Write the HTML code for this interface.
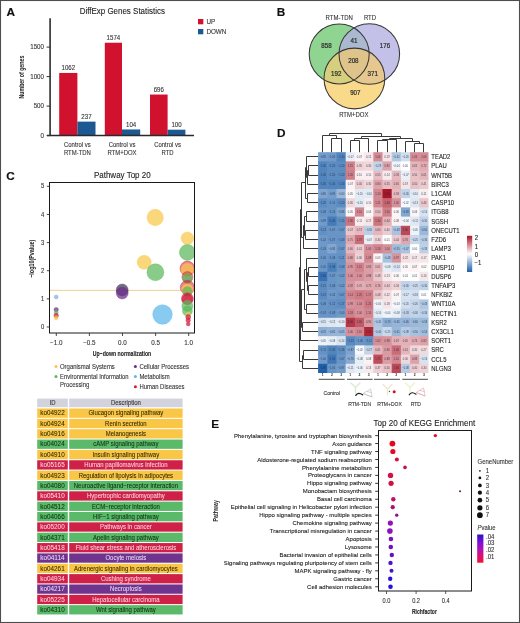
<!DOCTYPE html>
<html><head><meta charset="utf-8"><style>
html,body{margin:0;padding:0;background:#fff;width:520px;height:623px;overflow:hidden;}
svg{display:block;}
text{font-family:"Liberation Sans", sans-serif;}
</style></head><body>
<svg width="520" height="623" viewBox="0 0 520 623" font-family="Liberation Sans, sans-serif" style="will-change:transform">
<rect width="520" height="623" fill="#fff"/>
<text x="6.50" y="16.00" font-size="11.8" fill="#111" stroke="#111" stroke-width="0.15" font-weight="bold" textLength="8.52" lengthAdjust="spacingAndGlyphs">A</text>
<text x="276.80" y="16.00" font-size="11.8" fill="#111" stroke="#111" stroke-width="0.15" font-weight="bold" textLength="8.52" lengthAdjust="spacingAndGlyphs">B</text>
<text x="6.30" y="180.00" font-size="11.8" fill="#111" stroke="#111" stroke-width="0.15" font-weight="bold" textLength="8.52" lengthAdjust="spacingAndGlyphs">C</text>
<text x="276.90" y="136.60" font-size="11.8" fill="#111" stroke="#111" stroke-width="0.15" font-weight="bold" textLength="8.52" lengthAdjust="spacingAndGlyphs">D</text>
<text x="211.30" y="428.00" font-size="11.8" fill="#111" stroke="#111" stroke-width="0.15" font-weight="bold" textLength="7.87" lengthAdjust="spacingAndGlyphs">E</text>
<text x="122.30" y="13.70" font-size="8.8" fill="#222" stroke="#222" stroke-width="0.1" text-anchor="middle" textLength="85.30" lengthAdjust="spacingAndGlyphs">DiffExp Genes Statistics</text>
<rect x="59.20" y="72.94" width="18.20" height="62.66" fill="#d0122f" />
<text x="68.30" y="70.14" font-size="6.4" fill="#333" stroke="#333" stroke-width="0.1" text-anchor="middle" textLength="13.57" lengthAdjust="spacingAndGlyphs">1062</text>
<rect x="77.40" y="121.62" width="18.10" height="13.98" fill="#1c5892" />
<text x="86.45" y="118.82" font-size="6.4" fill="#333" stroke="#333" stroke-width="0.1" text-anchor="middle" textLength="10.18" lengthAdjust="spacingAndGlyphs">237</text>
<rect x="104.80" y="42.73" width="17.20" height="92.87" fill="#d0122f" />
<text x="113.40" y="39.93" font-size="6.4" fill="#333" stroke="#333" stroke-width="0.1" text-anchor="middle" textLength="13.57" lengthAdjust="spacingAndGlyphs">1574</text>
<rect x="122.00" y="129.46" width="18.20" height="6.14" fill="#1c5892" />
<text x="131.10" y="126.66" font-size="6.4" fill="#333" stroke="#333" stroke-width="0.1" text-anchor="middle" textLength="10.18" lengthAdjust="spacingAndGlyphs">104</text>
<rect x="150.00" y="94.54" width="17.60" height="41.06" fill="#d0122f" />
<text x="158.80" y="91.74" font-size="6.4" fill="#333" stroke="#333" stroke-width="0.1" text-anchor="middle" textLength="10.18" lengthAdjust="spacingAndGlyphs">696</text>
<rect x="167.60" y="129.70" width="17.80" height="5.90" fill="#1c5892" />
<text x="176.50" y="126.90" font-size="6.4" fill="#333" stroke="#333" stroke-width="0.1" text-anchor="middle" textLength="10.18" lengthAdjust="spacingAndGlyphs">100</text>
<line x1="50.10" y1="18.20" x2="50.10" y2="136.00" stroke="#383838" stroke-width="1.7"/>
<line x1="47.00" y1="135.50" x2="194.00" y2="135.50" stroke="#2a2a2a" stroke-width="1.3"/>
<line x1="46.60" y1="135.60" x2="50.30" y2="135.60" stroke="#333" stroke-width="1"/>
<text x="44.00" y="137.80" font-size="6.4" fill="#333" stroke="#333" stroke-width="0.1" text-anchor="end" textLength="3.45" lengthAdjust="spacingAndGlyphs">0</text>
<line x1="46.60" y1="106.10" x2="50.30" y2="106.10" stroke="#333" stroke-width="1"/>
<text x="44.00" y="108.30" font-size="6.4" fill="#333" stroke="#333" stroke-width="0.1" text-anchor="end" textLength="10.34" lengthAdjust="spacingAndGlyphs">500</text>
<line x1="46.60" y1="76.60" x2="50.30" y2="76.60" stroke="#333" stroke-width="1"/>
<text x="44.00" y="78.80" font-size="6.4" fill="#333" stroke="#333" stroke-width="0.1" text-anchor="end" textLength="13.79" lengthAdjust="spacingAndGlyphs">1000</text>
<line x1="46.60" y1="47.10" x2="50.30" y2="47.10" stroke="#333" stroke-width="1"/>
<text x="44.00" y="49.30" font-size="6.4" fill="#333" stroke="#333" stroke-width="0.1" text-anchor="end" textLength="13.79" lengthAdjust="spacingAndGlyphs">1500</text>
<text x="77.40" y="146.80" font-size="6.6" fill="#333" stroke="#333" stroke-width="0.1" text-anchor="middle" textLength="26.74" lengthAdjust="spacingAndGlyphs">Control vs</text>
<text x="77.40" y="154.50" font-size="6.6" fill="#333" stroke="#333" stroke-width="0.1" text-anchor="middle" textLength="26.94" lengthAdjust="spacingAndGlyphs">RTM-TDN</text>
<text x="122.00" y="146.80" font-size="6.6" fill="#333" stroke="#333" stroke-width="0.1" text-anchor="middle" textLength="26.74" lengthAdjust="spacingAndGlyphs">Control vs</text>
<text x="122.00" y="154.50" font-size="6.6" fill="#333" stroke="#333" stroke-width="0.1" text-anchor="middle" textLength="29.10" lengthAdjust="spacingAndGlyphs">RTM+DOX</text>
<text x="167.60" y="146.80" font-size="6.6" fill="#333" stroke="#333" stroke-width="0.1" text-anchor="middle" textLength="26.74" lengthAdjust="spacingAndGlyphs">Control vs</text>
<text x="167.60" y="154.50" font-size="6.6" fill="#333" stroke="#333" stroke-width="0.1" text-anchor="middle" textLength="12.10" lengthAdjust="spacingAndGlyphs">RTD</text>
<text x="0" y="0" font-size="8" font-weight="bold" fill="#222" text-anchor="middle" textLength="42.8" lengthAdjust="spacingAndGlyphs" transform="translate(24.4,77.1) rotate(-90)">Number of genes</text>
<rect x="198.00" y="19.00" width="5.30" height="5.30" fill="#d0122f" />
<text x="206.40" y="24.30" font-size="7.0" fill="#333" stroke="#333" stroke-width="0.1" textLength="8.75" lengthAdjust="spacingAndGlyphs">UP</text>
<rect x="198.00" y="29.00" width="5.30" height="5.30" fill="#1c5892" />
<text x="206.40" y="34.30" font-size="7.0" fill="#333" stroke="#333" stroke-width="0.1" textLength="20.00" lengthAdjust="spacingAndGlyphs">DOWN</text>
<defs>
<clipPath id="cg"><circle cx="339.2" cy="54.0" r="30.0"/></clipPath>
<clipPath id="cp"><circle cx="369.3" cy="54.0" r="30.3"/></clipPath>
<clipPath id="cy"><circle cx="354.4" cy="78.5" r="30.4"/></clipPath>
</defs>
<circle cx="339.2" cy="54.0" r="30.0" fill="#90d491" />
<circle cx="369.3" cy="54.0" r="30.3" fill="#c4c1e8" />
<g clip-path="url(#cg)"><circle cx="369.3" cy="54.0" r="30.3" fill="#aab8d0" /></g>
<circle cx="354.4" cy="78.5" r="30.4" fill="#f9d98a" />
<g clip-path="url(#cg)"><circle cx="354.4" cy="78.5" r="30.4" fill="#d6cf7d" /></g>
<g clip-path="url(#cp)"><circle cx="354.4" cy="78.5" r="30.4" fill="#e5c78f" /></g>
<g clip-path="url(#cg)"><g clip-path="url(#cp)"><circle cx="354.4" cy="78.5" r="30.4" fill="#dec48a" /></g></g>
<circle cx="339.2" cy="54.0" r="30.0" fill="none" stroke="#383838" stroke-width="1.05"/>
<circle cx="369.3" cy="54.0" r="30.3" fill="none" stroke="#383838" stroke-width="1.05"/>
<circle cx="354.4" cy="78.5" r="30.4" fill="none" stroke="#383838" stroke-width="1.05"/>
<text x="326.50" y="48.10" font-size="6.4" fill="#2a2a2a" stroke="#2a2a2a" stroke-width="0.2" text-anchor="middle" textLength="10.34" lengthAdjust="spacingAndGlyphs">858</text>
<text x="353.90" y="43.40" font-size="6.4" fill="#2a2a2a" stroke="#2a2a2a" stroke-width="0.2" text-anchor="middle" textLength="6.90" lengthAdjust="spacingAndGlyphs">41</text>
<text x="385.00" y="48.10" font-size="6.4" fill="#2a2a2a" stroke="#2a2a2a" stroke-width="0.2" text-anchor="middle" textLength="10.34" lengthAdjust="spacingAndGlyphs">176</text>
<text x="353.40" y="63.10" font-size="6.4" fill="#2a2a2a" stroke="#2a2a2a" stroke-width="0.2" text-anchor="middle" textLength="10.34" lengthAdjust="spacingAndGlyphs">208</text>
<text x="336.20" y="76.10" font-size="6.4" fill="#2a2a2a" stroke="#2a2a2a" stroke-width="0.2" text-anchor="middle" textLength="10.34" lengthAdjust="spacingAndGlyphs">192</text>
<text x="372.70" y="76.10" font-size="6.4" fill="#2a2a2a" stroke="#2a2a2a" stroke-width="0.2" text-anchor="middle" textLength="10.34" lengthAdjust="spacingAndGlyphs">371</text>
<text x="355.30" y="94.60" font-size="6.4" fill="#2a2a2a" stroke="#2a2a2a" stroke-width="0.2" text-anchor="middle" textLength="10.34" lengthAdjust="spacingAndGlyphs">907</text>
<text x="339.20" y="20.40" font-size="6.8" fill="#333" stroke="#333" stroke-width="0.1" text-anchor="middle" textLength="27.20" lengthAdjust="spacingAndGlyphs">RTM-TDN</text>
<text x="370.00" y="20.40" font-size="6.8" fill="#333" stroke="#333" stroke-width="0.1" text-anchor="middle" textLength="12.19" lengthAdjust="spacingAndGlyphs">RTD</text>
<text x="353.80" y="117.10" font-size="6.8" fill="#333" stroke="#333" stroke-width="0.1" text-anchor="middle" textLength="29.32" lengthAdjust="spacingAndGlyphs">RTM+DOX</text>
<text x="122.30" y="177.90" font-size="8.8" fill="#222" stroke="#222" stroke-width="0.1" text-anchor="middle" textLength="56.80" lengthAdjust="spacingAndGlyphs">Pathway Top 20</text>
<defs><clipPath id="pc"><rect x="49.5" y="182.5" width="145.0" height="150.5"/></clipPath></defs>
<line x1="49.50" y1="290.40" x2="194.50" y2="290.40" stroke="#efc77a" stroke-width="0.8"/>
<g clip-path="url(#pc)">
<circle cx="56.2" cy="297.0" r="2.0" fill="#7aaee0" fill-opacity="0.72" stroke="#7aaee0" stroke-opacity="0.6" stroke-width="0.6"/>
<circle cx="56.2" cy="309.6" r="2.2" fill="#6b2d8e" fill-opacity="0.72" stroke="#6b2d8e" stroke-opacity="0.6" stroke-width="0.6"/>
<circle cx="56.2" cy="312.6" r="2.0" fill="#5cb85c" fill-opacity="0.72" stroke="#5cb85c" stroke-opacity="0.6" stroke-width="0.6"/>
<circle cx="56.2" cy="315.6" r="2.3" fill="#d21a3a" fill-opacity="0.72" stroke="#d21a3a" stroke-opacity="0.6" stroke-width="0.6"/>
<circle cx="56.2" cy="318.0" r="2.0" fill="#f9c84a" fill-opacity="0.72" stroke="#f9c84a" stroke-opacity="0.6" stroke-width="0.6"/>
<circle cx="122.2" cy="290.0" r="6.0" fill="#3e3650" fill-opacity="0.72" stroke="#3e3650" stroke-opacity="0.6" stroke-width="0.6"/>
<circle cx="122.2" cy="293.0" r="6.0" fill="#6b2d8e" fill-opacity="0.72" stroke="#6b2d8e" stroke-opacity="0.6" stroke-width="0.6"/>
<circle cx="155.2" cy="217.5" r="8.2" fill="#f9c84a" fill-opacity="0.72" stroke="#f9c84a" stroke-opacity="0.6" stroke-width="0.6"/>
<circle cx="144.2" cy="262.3" r="7.0" fill="#f9c84a" fill-opacity="0.72" stroke="#f9c84a" stroke-opacity="0.6" stroke-width="0.6"/>
<circle cx="155.4" cy="272.3" r="8.5" fill="#5cb85c" fill-opacity="0.72" stroke="#5cb85c" stroke-opacity="0.6" stroke-width="0.6"/>
<circle cx="162.5" cy="314.5" r="9.8" fill="#5bb7ea" fill-opacity="0.72" stroke="#5bb7ea" stroke-opacity="0.6" stroke-width="0.6"/>
<circle cx="187.4" cy="238.2" r="6.3" fill="#f9c84a" fill-opacity="0.72" stroke="#f9c84a" stroke-opacity="0.6" stroke-width="0.6"/>
<circle cx="187.4" cy="252.4" r="8.0" fill="#5cb85c" fill-opacity="0.72" stroke="#5cb85c" stroke-opacity="0.6" stroke-width="0.6"/>
<circle cx="187.4" cy="268.5" r="7.4" fill="#d21a3a" fill-opacity="0.55" stroke="#d21a3a" stroke-opacity="0.6" stroke-width="0.6"/>
<circle cx="187.4" cy="269.5" r="6.3" fill="#f9c84a" fill-opacity="0.72" stroke="#f9c84a" stroke-opacity="0.6" stroke-width="0.6"/>
<circle cx="187.4" cy="277.0" r="5.5" fill="#d21a3a" fill-opacity="0.5" stroke="#d21a3a" stroke-opacity="0.6" stroke-width="0.6"/>
<circle cx="187.4" cy="278.5" r="5.0" fill="#5cb85c" fill-opacity="0.72" stroke="#5cb85c" stroke-opacity="0.6" stroke-width="0.6"/>
<circle cx="187.4" cy="287.5" r="7.2" fill="#d21a3a" fill-opacity="0.55" stroke="#d21a3a" stroke-opacity="0.6" stroke-width="0.6"/>
<circle cx="187.4" cy="289.5" r="5.8" fill="#f9c84a" fill-opacity="0.72" stroke="#f9c84a" stroke-opacity="0.6" stroke-width="0.6"/>
<circle cx="187.4" cy="291.5" r="4.8" fill="#5cb85c" fill-opacity="0.72" stroke="#5cb85c" stroke-opacity="0.6" stroke-width="0.6"/>
<circle cx="187.4" cy="298.8" r="6.0" fill="#d21a3a" fill-opacity="0.72" stroke="#d21a3a" stroke-opacity="0.6" stroke-width="0.6"/>
<circle cx="187.4" cy="299.5" r="5.0" fill="#d21a3a" fill-opacity="0.5" stroke="#d21a3a" stroke-opacity="0.6" stroke-width="0.6"/>
<circle cx="187.4" cy="305.9" r="5.6" fill="#5cb85c" fill-opacity="0.72" stroke="#5cb85c" stroke-opacity="0.6" stroke-width="0.6"/>
<circle cx="187.4" cy="311.0" r="5.0" fill="#5cb85c" fill-opacity="0.72" stroke="#5cb85c" stroke-opacity="0.6" stroke-width="0.6"/>
<circle cx="188.2" cy="314.5" r="2.2" fill="#f9c84a" fill-opacity="0.72" stroke="#f9c84a" stroke-opacity="0.6" stroke-width="0.6"/>
<circle cx="188.2" cy="317.0" r="2.5" fill="#d21a3a" fill-opacity="0.72" stroke="#d21a3a" stroke-opacity="0.6" stroke-width="0.6"/>
<circle cx="188.2" cy="320.3" r="2.2" fill="#d21a3a" fill-opacity="0.72" stroke="#d21a3a" stroke-opacity="0.6" stroke-width="0.6"/>
<circle cx="188.2" cy="323.9" r="2.0" fill="#d21a3a" fill-opacity="0.72" stroke="#d21a3a" stroke-opacity="0.6" stroke-width="0.6"/>
</g>
<rect x="49.5" y="182.5" width="145.0" height="150.5" fill="none" stroke="#1a1a1a" stroke-width="1.0"/>
<line x1="46.80" y1="327.00" x2="49.50" y2="327.00" stroke="#333" stroke-width="0.9"/>
<text x="44.30" y="329.10" font-size="6.4" fill="#333" stroke="#333" stroke-width="0.1" text-anchor="end" textLength="3.28" lengthAdjust="spacingAndGlyphs">0</text>
<line x1="46.80" y1="298.86" x2="49.50" y2="298.86" stroke="#333" stroke-width="0.9"/>
<text x="44.30" y="300.96" font-size="6.4" fill="#333" stroke="#333" stroke-width="0.1" text-anchor="end" textLength="3.28" lengthAdjust="spacingAndGlyphs">1</text>
<line x1="46.80" y1="270.72" x2="49.50" y2="270.72" stroke="#333" stroke-width="0.9"/>
<text x="44.30" y="272.82" font-size="6.4" fill="#333" stroke="#333" stroke-width="0.1" text-anchor="end" textLength="3.28" lengthAdjust="spacingAndGlyphs">2</text>
<line x1="46.80" y1="242.58" x2="49.50" y2="242.58" stroke="#333" stroke-width="0.9"/>
<text x="44.30" y="244.68" font-size="6.4" fill="#333" stroke="#333" stroke-width="0.1" text-anchor="end" textLength="3.28" lengthAdjust="spacingAndGlyphs">3</text>
<line x1="46.80" y1="214.44" x2="49.50" y2="214.44" stroke="#333" stroke-width="0.9"/>
<text x="44.30" y="216.54" font-size="6.4" fill="#333" stroke="#333" stroke-width="0.1" text-anchor="end" textLength="3.28" lengthAdjust="spacingAndGlyphs">4</text>
<line x1="46.80" y1="186.30" x2="49.50" y2="186.30" stroke="#333" stroke-width="0.9"/>
<text x="44.30" y="188.40" font-size="6.4" fill="#333" stroke="#333" stroke-width="0.1" text-anchor="end" textLength="3.28" lengthAdjust="spacingAndGlyphs">5</text>
<line x1="56.30" y1="333.00" x2="56.30" y2="336.00" stroke="#333" stroke-width="0.9"/>
<text x="56.30" y="345.20" font-size="6.4" fill="#333" stroke="#333" stroke-width="0.1" text-anchor="middle" textLength="12.44" lengthAdjust="spacingAndGlyphs">−1.0</text>
<line x1="89.40" y1="333.00" x2="89.40" y2="336.00" stroke="#333" stroke-width="0.9"/>
<text x="89.40" y="345.20" font-size="6.4" fill="#333" stroke="#333" stroke-width="0.1" text-anchor="middle" textLength="12.44" lengthAdjust="spacingAndGlyphs">−0.5</text>
<line x1="122.50" y1="333.00" x2="122.50" y2="336.00" stroke="#333" stroke-width="0.9"/>
<text x="122.50" y="345.20" font-size="6.4" fill="#333" stroke="#333" stroke-width="0.1" text-anchor="middle" textLength="8.76" lengthAdjust="spacingAndGlyphs">0.0</text>
<line x1="155.60" y1="333.00" x2="155.60" y2="336.00" stroke="#333" stroke-width="0.9"/>
<text x="155.60" y="345.20" font-size="6.4" fill="#333" stroke="#333" stroke-width="0.1" text-anchor="middle" textLength="8.76" lengthAdjust="spacingAndGlyphs">0.5</text>
<line x1="188.70" y1="333.00" x2="188.70" y2="336.00" stroke="#333" stroke-width="0.9"/>
<text x="188.70" y="345.20" font-size="6.4" fill="#333" stroke="#333" stroke-width="0.1" text-anchor="middle" textLength="8.76" lengthAdjust="spacingAndGlyphs">1.0</text>
<text x="0" y="0" font-size="7.2" font-weight="bold" fill="#222" text-anchor="middle" textLength="38.2" lengthAdjust="spacingAndGlyphs" transform="translate(34.1,258.7) rotate(-90)">−log10(Pvalue)</text>
<text x="122.00" y="356.40" font-size="7.4" fill="#222" stroke="#222" stroke-width="0.1" text-anchor="middle" font-weight="bold" textLength="58.60" lengthAdjust="spacingAndGlyphs">Up−down normalization</text>
<circle cx="56.00" cy="366.50" r="1.50" fill="#f9c84a" />
<circle cx="56.00" cy="376.50" r="1.50" fill="#5cb85c" />
<circle cx="135.40" cy="366.50" r="1.50" fill="#6b2d8e" />
<circle cx="135.40" cy="376.50" r="1.50" fill="#5bb7ea" />
<circle cx="135.40" cy="386.80" r="1.50" fill="#d21a3a" />
<text x="60.00" y="368.90" font-size="6.8" fill="#333" stroke="#333" stroke-width="0.1" textLength="54.80" lengthAdjust="spacingAndGlyphs">Organismal Systems</text>
<text x="60.00" y="378.90" font-size="6.8" fill="#333" stroke="#333" stroke-width="0.1" textLength="68.60" lengthAdjust="spacingAndGlyphs">Environmental Information</text>
<text x="60.00" y="386.60" font-size="6.8" fill="#333" stroke="#333" stroke-width="0.1" textLength="29.27" lengthAdjust="spacingAndGlyphs">Processing</text>
<text x="139.40" y="368.90" font-size="6.8" fill="#333" stroke="#333" stroke-width="0.1" textLength="49.60" lengthAdjust="spacingAndGlyphs">Cellular Processes</text>
<text x="139.40" y="378.90" font-size="6.8" fill="#333" stroke="#333" stroke-width="0.1" textLength="30.25" lengthAdjust="spacingAndGlyphs">Metabolism</text>
<text x="139.40" y="389.00" font-size="6.8" fill="#333" stroke="#333" stroke-width="0.1" textLength="45.05" lengthAdjust="spacingAndGlyphs">Human Diseases</text>
<rect x="37.20" y="398.60" width="30.60" height="8.60" fill="#d3d3de" />
<rect x="69.20" y="398.60" width="113.40" height="8.60" fill="#d3d3de" />
<text x="52.50" y="405.30" font-size="6.8" fill="#333" stroke="#333" stroke-width="0.1" text-anchor="middle" textLength="5.98" lengthAdjust="spacingAndGlyphs">ID</text>
<text x="125.90" y="405.30" font-size="6.8" fill="#333" stroke="#333" stroke-width="0.1" text-anchor="middle" textLength="29.93" lengthAdjust="spacingAndGlyphs">Description</text>
<rect x="37.20" y="408.50" width="30.60" height="9.30" fill="#f9c646" />
<rect x="69.20" y="408.50" width="113.40" height="9.30" fill="#f9c646" />
<text x="52.50" y="415.40" font-size="6.8" fill="#2a2200" stroke="#2a2200" stroke-width="0.04" text-anchor="middle" textLength="24.40" lengthAdjust="spacingAndGlyphs">ko04922</text>
<text x="125.90" y="415.40" font-size="6.8" fill="#2a2200" stroke="#2a2200" stroke-width="0.04" text-anchor="middle" textLength="74.85" lengthAdjust="spacingAndGlyphs">Glucagon signaling pathway</text>
<rect x="37.20" y="418.85" width="30.60" height="9.30" fill="#f9c646" />
<rect x="69.20" y="418.85" width="113.40" height="9.30" fill="#f9c646" />
<text x="52.50" y="425.75" font-size="6.8" fill="#2a2200" stroke="#2a2200" stroke-width="0.04" text-anchor="middle" textLength="24.40" lengthAdjust="spacingAndGlyphs">ko04924</text>
<text x="125.90" y="425.75" font-size="6.8" fill="#2a2200" stroke="#2a2200" stroke-width="0.04" text-anchor="middle" textLength="41.58" lengthAdjust="spacingAndGlyphs">Renin secretion</text>
<rect x="37.20" y="429.20" width="30.60" height="9.30" fill="#f9c646" />
<rect x="69.20" y="429.20" width="113.40" height="9.30" fill="#f9c646" />
<text x="52.50" y="436.10" font-size="6.8" fill="#2a2200" stroke="#2a2200" stroke-width="0.04" text-anchor="middle" textLength="24.40" lengthAdjust="spacingAndGlyphs">ko04916</text>
<text x="125.90" y="436.10" font-size="6.8" fill="#2a2200" stroke="#2a2200" stroke-width="0.04" text-anchor="middle" textLength="40.25" lengthAdjust="spacingAndGlyphs">Melanogenesis</text>
<rect x="37.20" y="439.55" width="30.60" height="9.30" fill="#5bba69" />
<rect x="69.20" y="439.55" width="113.40" height="9.30" fill="#5bba69" />
<text x="52.50" y="446.45" font-size="6.8" fill="#0d2a10" stroke="#0d2a10" stroke-width="0.04" text-anchor="middle" textLength="24.40" lengthAdjust="spacingAndGlyphs">ko04024</text>
<text x="125.90" y="446.45" font-size="6.8" fill="#0d2a10" stroke="#0d2a10" stroke-width="0.04" text-anchor="middle" textLength="65.09" lengthAdjust="spacingAndGlyphs">cAMP signaling pathway</text>
<rect x="37.20" y="449.90" width="30.60" height="9.30" fill="#f9c646" />
<rect x="69.20" y="449.90" width="113.40" height="9.30" fill="#f9c646" />
<text x="52.50" y="456.80" font-size="6.8" fill="#2a2200" stroke="#2a2200" stroke-width="0.04" text-anchor="middle" textLength="24.40" lengthAdjust="spacingAndGlyphs">ko04910</text>
<text x="125.90" y="456.80" font-size="6.8" fill="#2a2200" stroke="#2a2200" stroke-width="0.04" text-anchor="middle" textLength="66.53" lengthAdjust="spacingAndGlyphs">Insulin signaling pathway</text>
<rect x="37.20" y="460.25" width="30.60" height="9.30" fill="#cf2148" />
<rect x="69.20" y="460.25" width="113.40" height="9.30" fill="#cf2148" />
<text x="52.50" y="467.15" font-size="6.8" fill="#fbd7e2" stroke="#fbd7e2" stroke-width="0.04" text-anchor="middle" textLength="24.40" lengthAdjust="spacingAndGlyphs">ko05165</text>
<text x="125.90" y="467.15" font-size="6.8" fill="#fbd7e2" stroke="#fbd7e2" stroke-width="0.04" text-anchor="middle" textLength="83.15" lengthAdjust="spacingAndGlyphs">Human papillomavirus infection</text>
<rect x="37.20" y="470.60" width="30.60" height="9.30" fill="#f9c646" />
<rect x="69.20" y="470.60" width="113.40" height="9.30" fill="#f9c646" />
<text x="52.50" y="477.50" font-size="6.8" fill="#2a2200" stroke="#2a2200" stroke-width="0.04" text-anchor="middle" textLength="24.40" lengthAdjust="spacingAndGlyphs">ko04923</text>
<text x="125.90" y="477.50" font-size="6.8" fill="#2a2200" stroke="#2a2200" stroke-width="0.04" text-anchor="middle" textLength="94.47" lengthAdjust="spacingAndGlyphs">Regulation of lipolysis in adipocytes</text>
<rect x="37.20" y="480.95" width="30.60" height="9.30" fill="#5bba69" />
<rect x="69.20" y="480.95" width="113.40" height="9.30" fill="#5bba69" />
<text x="52.50" y="487.85" font-size="6.8" fill="#0d2a10" stroke="#0d2a10" stroke-width="0.04" text-anchor="middle" textLength="24.40" lengthAdjust="spacingAndGlyphs">ko04080</text>
<text x="125.90" y="487.85" font-size="6.8" fill="#0d2a10" stroke="#0d2a10" stroke-width="0.04" text-anchor="middle" textLength="104.28" lengthAdjust="spacingAndGlyphs">Neuroactive ligand−receptor interaction</text>
<rect x="37.20" y="491.30" width="30.60" height="9.30" fill="#cf2148" />
<rect x="69.20" y="491.30" width="113.40" height="9.30" fill="#cf2148" />
<text x="52.50" y="498.20" font-size="6.8" fill="#fbd7e2" stroke="#fbd7e2" stroke-width="0.04" text-anchor="middle" textLength="24.40" lengthAdjust="spacingAndGlyphs">ko05410</text>
<text x="125.90" y="498.20" font-size="6.8" fill="#fbd7e2" stroke="#fbd7e2" stroke-width="0.04" text-anchor="middle" textLength="77.83" lengthAdjust="spacingAndGlyphs">Hypertrophic cardiomyopathy</text>
<rect x="37.20" y="501.65" width="30.60" height="9.30" fill="#5bba69" />
<rect x="69.20" y="501.65" width="113.40" height="9.30" fill="#5bba69" />
<text x="52.50" y="508.55" font-size="6.8" fill="#0d2a10" stroke="#0d2a10" stroke-width="0.04" text-anchor="middle" textLength="24.40" lengthAdjust="spacingAndGlyphs">ko04512</text>
<text x="125.90" y="508.55" font-size="6.8" fill="#0d2a10" stroke="#0d2a10" stroke-width="0.04" text-anchor="middle" textLength="68.02" lengthAdjust="spacingAndGlyphs">ECM−receptor interaction</text>
<rect x="37.20" y="512.00" width="30.60" height="9.30" fill="#5bba69" />
<rect x="69.20" y="512.00" width="113.40" height="9.30" fill="#5bba69" />
<text x="52.50" y="518.90" font-size="6.8" fill="#0d2a10" stroke="#0d2a10" stroke-width="0.04" text-anchor="middle" textLength="24.40" lengthAdjust="spacingAndGlyphs">ko04066</text>
<text x="125.90" y="518.90" font-size="6.8" fill="#0d2a10" stroke="#0d2a10" stroke-width="0.04" text-anchor="middle" textLength="65.70" lengthAdjust="spacingAndGlyphs">HIF−1 signaling pathway</text>
<rect x="37.20" y="522.35" width="30.60" height="9.30" fill="#cf2148" />
<rect x="69.20" y="522.35" width="113.40" height="9.30" fill="#cf2148" />
<text x="52.50" y="529.25" font-size="6.8" fill="#fbd7e2" stroke="#fbd7e2" stroke-width="0.04" text-anchor="middle" textLength="24.40" lengthAdjust="spacingAndGlyphs">ko05200</text>
<text x="125.90" y="529.25" font-size="6.8" fill="#fbd7e2" stroke="#fbd7e2" stroke-width="0.04" text-anchor="middle" textLength="51.89" lengthAdjust="spacingAndGlyphs">Pathways in cancer</text>
<rect x="37.20" y="532.70" width="30.60" height="9.30" fill="#5bba69" />
<rect x="69.20" y="532.70" width="113.40" height="9.30" fill="#5bba69" />
<text x="52.50" y="539.60" font-size="6.8" fill="#0d2a10" stroke="#0d2a10" stroke-width="0.04" text-anchor="middle" textLength="24.40" lengthAdjust="spacingAndGlyphs">ko04371</text>
<text x="125.90" y="539.60" font-size="6.8" fill="#0d2a10" stroke="#0d2a10" stroke-width="0.04" text-anchor="middle" textLength="65.87" lengthAdjust="spacingAndGlyphs">Apelin signaling pathway</text>
<rect x="37.20" y="543.05" width="30.60" height="9.30" fill="#cf2148" />
<rect x="69.20" y="543.05" width="113.40" height="9.30" fill="#cf2148" />
<text x="52.50" y="549.95" font-size="6.8" fill="#fbd7e2" stroke="#fbd7e2" stroke-width="0.04" text-anchor="middle" textLength="24.40" lengthAdjust="spacingAndGlyphs">ko05418</text>
<text x="125.90" y="549.95" font-size="6.8" fill="#fbd7e2" stroke="#fbd7e2" stroke-width="0.04" text-anchor="middle" textLength="100.78" lengthAdjust="spacingAndGlyphs">Fluid shear stress and atherosclerosis</text>
<rect x="37.20" y="553.40" width="30.60" height="9.30" fill="#6f348e" />
<rect x="69.20" y="553.40" width="113.40" height="9.30" fill="#6f348e" />
<text x="52.50" y="560.30" font-size="6.8" fill="#eadcf6" stroke="#eadcf6" stroke-width="0.04" text-anchor="middle" textLength="24.40" lengthAdjust="spacingAndGlyphs">ko04114</text>
<text x="125.90" y="560.30" font-size="6.8" fill="#eadcf6" stroke="#eadcf6" stroke-width="0.04" text-anchor="middle" textLength="40.90" lengthAdjust="spacingAndGlyphs">Oocyte meiosis</text>
<rect x="37.20" y="563.75" width="30.60" height="9.30" fill="#f9c646" />
<rect x="69.20" y="563.75" width="113.40" height="9.30" fill="#f9c646" />
<text x="52.50" y="570.65" font-size="6.8" fill="#2a2200" stroke="#2a2200" stroke-width="0.04" text-anchor="middle" textLength="24.40" lengthAdjust="spacingAndGlyphs">ko04261</text>
<text x="125.90" y="570.65" font-size="6.8" fill="#2a2200" stroke="#2a2200" stroke-width="0.04" text-anchor="middle" textLength="103.77" lengthAdjust="spacingAndGlyphs">Adrenergic signaling in cardiomyocytes</text>
<rect x="37.20" y="574.10" width="30.60" height="9.30" fill="#cf2148" />
<rect x="69.20" y="574.10" width="113.40" height="9.30" fill="#cf2148" />
<text x="52.50" y="581.00" font-size="6.8" fill="#fbd7e2" stroke="#fbd7e2" stroke-width="0.04" text-anchor="middle" textLength="24.40" lengthAdjust="spacingAndGlyphs">ko04934</text>
<text x="125.90" y="581.00" font-size="6.8" fill="#fbd7e2" stroke="#fbd7e2" stroke-width="0.04" text-anchor="middle" textLength="49.89" lengthAdjust="spacingAndGlyphs">Cushing syndrome</text>
<rect x="37.20" y="584.45" width="30.60" height="9.30" fill="#6f348e" />
<rect x="69.20" y="584.45" width="113.40" height="9.30" fill="#6f348e" />
<text x="52.50" y="591.35" font-size="6.8" fill="#eadcf6" stroke="#eadcf6" stroke-width="0.04" text-anchor="middle" textLength="24.40" lengthAdjust="spacingAndGlyphs">ko04217</text>
<text x="125.90" y="591.35" font-size="6.8" fill="#eadcf6" stroke="#eadcf6" stroke-width="0.04" text-anchor="middle" textLength="31.59" lengthAdjust="spacingAndGlyphs">Necroptosis</text>
<rect x="37.20" y="594.80" width="30.60" height="9.30" fill="#cf2148" />
<rect x="69.20" y="594.80" width="113.40" height="9.30" fill="#cf2148" />
<text x="52.50" y="601.70" font-size="6.8" fill="#fbd7e2" stroke="#fbd7e2" stroke-width="0.04" text-anchor="middle" textLength="24.40" lengthAdjust="spacingAndGlyphs">ko05225</text>
<text x="125.90" y="601.70" font-size="6.8" fill="#fbd7e2" stroke="#fbd7e2" stroke-width="0.04" text-anchor="middle" textLength="67.52" lengthAdjust="spacingAndGlyphs">Hepatocellular carcinoma</text>
<rect x="37.20" y="605.15" width="30.60" height="9.30" fill="#5bba69" />
<rect x="69.20" y="605.15" width="113.40" height="9.30" fill="#5bba69" />
<text x="52.50" y="612.05" font-size="6.8" fill="#0d2a10" stroke="#0d2a10" stroke-width="0.04" text-anchor="middle" textLength="24.40" lengthAdjust="spacingAndGlyphs">ko04310</text>
<text x="125.90" y="612.05" font-size="6.8" fill="#0d2a10" stroke="#0d2a10" stroke-width="0.04" text-anchor="middle" textLength="59.87" lengthAdjust="spacingAndGlyphs">Wnt signaling pathway</text>
<rect x="318.10" y="152.20" width="9.80" height="9.80" fill="#749dcb" />
<rect x="327.30" y="152.20" width="9.80" height="9.80" fill="#6f9ac9" />
<rect x="336.50" y="152.20" width="9.80" height="9.80" fill="#5285be" />
<rect x="345.70" y="152.20" width="9.80" height="9.80" fill="#e9eff7" />
<rect x="354.90" y="152.20" width="9.80" height="9.80" fill="#fbf3f4" />
<rect x="364.10" y="152.20" width="9.80" height="9.80" fill="#f7e9eb" />
<rect x="373.30" y="152.20" width="9.80" height="9.80" fill="#d58b94" />
<rect x="382.50" y="152.20" width="9.80" height="9.80" fill="#f5e4e6" />
<rect x="391.70" y="152.20" width="9.80" height="9.80" fill="#b1c8e1" />
<rect x="400.90" y="152.20" width="9.80" height="9.80" fill="#d0deed" />
<rect x="410.10" y="152.20" width="9.80" height="9.80" fill="#d58c95" />
<rect x="419.30" y="152.20" width="9.20" height="9.80" fill="#d58b94" />
<rect x="318.10" y="161.40" width="9.80" height="9.80" fill="#5285be" />
<rect x="327.30" y="161.40" width="9.80" height="9.80" fill="#5c8cc1" />
<rect x="336.50" y="161.40" width="9.80" height="9.80" fill="#5c8cc1" />
<rect x="345.70" y="161.40" width="9.80" height="9.80" fill="#d2828c" />
<rect x="354.90" y="161.40" width="9.80" height="9.80" fill="#eed2d5" />
<rect x="364.10" y="161.40" width="9.80" height="9.80" fill="#f0d7da" />
<rect x="373.30" y="161.40" width="9.80" height="9.80" fill="#c3d4e8" />
<rect x="382.50" y="161.40" width="9.80" height="9.80" fill="#dda2aa" />
<rect x="391.70" y="161.40" width="9.80" height="9.80" fill="#f0f4f9" />
<rect x="400.90" y="161.40" width="9.80" height="9.80" fill="#ffffff" />
<rect x="410.10" y="161.40" width="9.80" height="9.80" fill="#e4b5bb" />
<rect x="419.30" y="161.40" width="9.20" height="9.80" fill="#e0abb2" />
<rect x="318.10" y="170.60" width="9.80" height="9.80" fill="#5285be" />
<rect x="327.30" y="170.60" width="9.80" height="9.80" fill="#5c8cc1" />
<rect x="336.50" y="170.60" width="9.80" height="9.80" fill="#5c8cc1" />
<rect x="345.70" y="170.60" width="9.80" height="9.80" fill="#d07e88" />
<rect x="354.90" y="170.60" width="9.80" height="9.80" fill="#f9eff1" />
<rect x="364.10" y="170.60" width="9.80" height="9.80" fill="#f9eff1" />
<rect x="373.30" y="170.60" width="9.80" height="9.80" fill="#e7bcc2" />
<rect x="382.50" y="170.60" width="9.80" height="9.80" fill="#f7eaec" />
<rect x="391.70" y="170.60" width="9.80" height="9.80" fill="#e6b9bf" />
<rect x="400.90" y="170.60" width="9.80" height="9.80" fill="#e9eff7" />
<rect x="410.10" y="170.60" width="9.80" height="9.80" fill="#e9c2c6" />
<rect x="419.30" y="170.60" width="9.20" height="9.80" fill="#e4b6bc" />
<rect x="318.10" y="179.80" width="9.80" height="9.80" fill="#5285be" />
<rect x="327.30" y="179.80" width="9.80" height="9.80" fill="#5285be" />
<rect x="336.50" y="179.80" width="9.80" height="9.80" fill="#5285be" />
<rect x="345.70" y="179.80" width="9.80" height="9.80" fill="#fbf3f4" />
<rect x="354.90" y="179.80" width="9.80" height="9.80" fill="#ecccd0" />
<rect x="364.10" y="179.80" width="9.80" height="9.80" fill="#f0d7da" />
<rect x="373.30" y="179.80" width="9.80" height="9.80" fill="#dea3aa" />
<rect x="382.50" y="179.80" width="9.80" height="9.80" fill="#e7bcc2" />
<rect x="391.70" y="179.80" width="9.80" height="9.80" fill="#e3b2b8" />
<rect x="400.90" y="179.80" width="9.80" height="9.80" fill="#f5e4e6" />
<rect x="410.10" y="179.80" width="9.80" height="9.80" fill="#e9c2c6" />
<rect x="419.30" y="179.80" width="9.20" height="9.80" fill="#eccbcf" />
<rect x="318.10" y="189.00" width="9.80" height="9.80" fill="#7fa4cf" />
<rect x="327.30" y="189.00" width="9.80" height="9.80" fill="#749dcb" />
<rect x="336.50" y="189.00" width="9.80" height="9.80" fill="#9bb8d9" />
<rect x="345.70" y="189.00" width="9.80" height="9.80" fill="#fcf6f7" />
<rect x="354.90" y="189.00" width="9.80" height="9.80" fill="#e2ebf4" />
<rect x="364.10" y="189.00" width="9.80" height="9.80" fill="#e2ebf4" />
<rect x="373.30" y="189.00" width="9.80" height="9.80" fill="#d38790" />
<rect x="382.50" y="189.00" width="9.80" height="9.80" fill="#aa1628" />
<rect x="391.70" y="189.00" width="9.80" height="9.80" fill="#e6b9bf" />
<rect x="400.90" y="189.00" width="9.80" height="9.80" fill="#c1d3e8" />
<rect x="410.10" y="189.00" width="9.80" height="9.80" fill="#e2ebf4" />
<rect x="419.30" y="189.00" width="9.20" height="9.80" fill="#f9eeef" />
<rect x="318.10" y="198.20" width="9.80" height="9.80" fill="#5c8cc1" />
<rect x="327.30" y="198.20" width="9.80" height="9.80" fill="#6693c5" />
<rect x="336.50" y="198.20" width="9.80" height="9.80" fill="#5c8cc1" />
<rect x="345.70" y="198.20" width="9.80" height="9.80" fill="#f0d7da" />
<rect x="354.90" y="198.20" width="9.80" height="9.80" fill="#e2ebf4" />
<rect x="364.10" y="198.20" width="9.80" height="9.80" fill="#f9eff1" />
<rect x="373.30" y="198.20" width="9.80" height="9.80" fill="#d3868f" />
<rect x="382.50" y="198.20" width="9.80" height="9.80" fill="#c76570" />
<rect x="391.70" y="198.20" width="9.80" height="9.80" fill="#d79099" />
<rect x="400.90" y="198.20" width="9.80" height="9.80" fill="#f6f8fb" />
<rect x="410.10" y="198.20" width="9.80" height="9.80" fill="#dde7f2" />
<rect x="419.30" y="198.20" width="9.20" height="9.80" fill="#eac6ca" />
<rect x="318.10" y="207.40" width="9.80" height="9.80" fill="#6794c6" />
<rect x="327.30" y="207.40" width="9.80" height="9.80" fill="#6693c5" />
<rect x="336.50" y="207.40" width="9.80" height="9.80" fill="#7ea4ce" />
<rect x="345.70" y="207.40" width="9.80" height="9.80" fill="#fcf6f7" />
<rect x="354.90" y="207.40" width="9.80" height="9.80" fill="#d38790" />
<rect x="364.10" y="207.40" width="9.80" height="9.80" fill="#fcf8f8" />
<rect x="373.30" y="207.40" width="9.80" height="9.80" fill="#e7bdc2" />
<rect x="382.50" y="207.40" width="9.80" height="9.80" fill="#d07e88" />
<rect x="391.70" y="207.40" width="9.80" height="9.80" fill="#fbf5f6" />
<rect x="400.90" y="207.40" width="9.80" height="9.80" fill="#81a6cf" />
<rect x="410.10" y="207.40" width="9.80" height="9.80" fill="#fbf5f6" />
<rect x="419.30" y="207.40" width="9.20" height="9.80" fill="#d7e3f0" />
<rect x="318.10" y="216.60" width="9.80" height="9.80" fill="#709ac9" />
<rect x="327.30" y="216.60" width="9.80" height="9.80" fill="#457bb9" />
<rect x="336.50" y="216.60" width="9.80" height="9.80" fill="#618fc3" />
<rect x="345.70" y="216.60" width="9.80" height="9.80" fill="#cd757f" />
<rect x="354.90" y="216.60" width="9.80" height="9.80" fill="#f9eeef" />
<rect x="364.10" y="216.60" width="9.80" height="9.80" fill="#f6e6e8" />
<rect x="373.30" y="216.60" width="9.80" height="9.80" fill="#cd757f" />
<rect x="382.50" y="216.60" width="9.80" height="9.80" fill="#e3b3b9" />
<rect x="391.70" y="216.60" width="9.80" height="9.80" fill="#faf2f3" />
<rect x="400.90" y="216.60" width="9.80" height="9.80" fill="#f0f4f9" />
<rect x="410.10" y="216.60" width="9.80" height="9.80" fill="#e0e9f3" />
<rect x="419.30" y="216.60" width="9.20" height="9.80" fill="#c1d3e8" />
<rect x="318.10" y="225.80" width="9.80" height="9.80" fill="#6390c4" />
<rect x="327.30" y="225.80" width="9.80" height="9.80" fill="#6895c6" />
<rect x="336.50" y="225.80" width="9.80" height="9.80" fill="#6895c6" />
<rect x="345.70" y="225.80" width="9.80" height="9.80" fill="#eac5c9" />
<rect x="354.90" y="225.80" width="9.80" height="9.80" fill="#e6bac0" />
<rect x="364.10" y="225.80" width="9.80" height="9.80" fill="#bacee5" />
<rect x="373.30" y="225.80" width="9.80" height="9.80" fill="#e5b7bd" />
<rect x="382.50" y="225.80" width="9.80" height="9.80" fill="#ecccd0" />
<rect x="391.70" y="225.80" width="9.80" height="9.80" fill="#a9c2df" />
<rect x="400.90" y="225.80" width="9.80" height="9.80" fill="#bc4957" />
<rect x="410.10" y="225.80" width="9.80" height="9.80" fill="#edf3f8" />
<rect x="419.30" y="225.80" width="9.20" height="9.80" fill="#9bb8d9" />
<rect x="318.10" y="235.00" width="9.80" height="9.80" fill="#6d98c8" />
<rect x="327.30" y="235.00" width="9.80" height="9.80" fill="#6895c6" />
<rect x="336.50" y="235.00" width="9.80" height="9.80" fill="#6794c6" />
<rect x="345.70" y="235.00" width="9.80" height="9.80" fill="#dfa8af" />
<rect x="354.90" y="235.00" width="9.80" height="9.80" fill="#ca6e7a" />
<rect x="364.10" y="235.00" width="9.80" height="9.80" fill="#e9eff7" />
<rect x="373.30" y="235.00" width="9.80" height="9.80" fill="#efd3d6" />
<rect x="382.50" y="235.00" width="9.80" height="9.80" fill="#fefdfd" />
<rect x="391.70" y="235.00" width="9.80" height="9.80" fill="#ebc8cc" />
<rect x="400.90" y="235.00" width="9.80" height="9.80" fill="#dfa7ae" />
<rect x="410.10" y="235.00" width="9.80" height="9.80" fill="#c9d9ea" />
<rect x="419.30" y="235.00" width="9.20" height="9.80" fill="#b9cde4" />
<rect x="318.10" y="244.20" width="9.80" height="9.80" fill="#6c97c8" />
<rect x="327.30" y="244.20" width="9.80" height="9.80" fill="#81a6cf" />
<rect x="336.50" y="244.20" width="9.80" height="9.80" fill="#6895c6" />
<rect x="345.70" y="244.20" width="9.80" height="9.80" fill="#e5b7bd" />
<rect x="354.90" y="244.20" width="9.80" height="9.80" fill="#eccbcf" />
<rect x="364.10" y="244.20" width="9.80" height="9.80" fill="#d79099" />
<rect x="373.30" y="244.20" width="9.80" height="9.80" fill="#d2838d" />
<rect x="382.50" y="244.20" width="9.80" height="9.80" fill="#d79099" />
<rect x="391.70" y="244.20" width="9.80" height="9.80" fill="#a1bcdb" />
<rect x="400.90" y="244.20" width="9.80" height="9.80" fill="#aac3df" />
<rect x="410.10" y="244.20" width="9.80" height="9.80" fill="#ffffff" />
<rect x="419.30" y="244.20" width="9.20" height="9.80" fill="#bdd0e6" />
<rect x="318.10" y="253.40" width="9.80" height="9.80" fill="#6995c7" />
<rect x="327.30" y="253.40" width="9.80" height="9.80" fill="#6794c6" />
<rect x="336.50" y="253.40" width="9.80" height="9.80" fill="#6592c5" />
<rect x="345.70" y="253.40" width="9.80" height="9.80" fill="#db9ea5" />
<rect x="354.90" y="253.40" width="9.80" height="9.80" fill="#eed1d4" />
<rect x="364.10" y="253.40" width="9.80" height="9.80" fill="#d48891" />
<rect x="373.30" y="253.40" width="9.80" height="9.80" fill="#fcf6f7" />
<rect x="382.50" y="253.40" width="9.80" height="9.80" fill="#a9c2df" />
<rect x="391.70" y="253.40" width="9.80" height="9.80" fill="#d8939b" />
<rect x="400.90" y="253.40" width="9.80" height="9.80" fill="#f4e0e3" />
<rect x="410.10" y="253.40" width="9.80" height="9.80" fill="#f6e6e8" />
<rect x="419.30" y="253.40" width="9.20" height="9.80" fill="#f6e6e8" />
<rect x="318.10" y="262.60" width="9.80" height="9.80" fill="#6a96c7" />
<rect x="327.30" y="262.60" width="9.80" height="9.80" fill="#4b80bb" />
<rect x="336.50" y="262.60" width="9.80" height="9.80" fill="#6794c6" />
<rect x="345.70" y="262.60" width="9.80" height="9.80" fill="#d8959d" />
<rect x="354.90" y="262.60" width="9.80" height="9.80" fill="#d2828c" />
<rect x="364.10" y="262.60" width="9.80" height="9.80" fill="#dc9fa6" />
<rect x="373.30" y="262.60" width="9.80" height="9.80" fill="#e4b6bc" />
<rect x="382.50" y="262.60" width="9.80" height="9.80" fill="#e6eef6" />
<rect x="391.70" y="262.60" width="9.80" height="9.80" fill="#dbe5f1" />
<rect x="400.90" y="262.60" width="9.80" height="9.80" fill="#fcf6f7" />
<rect x="410.10" y="262.60" width="9.80" height="9.80" fill="#fbf3f4" />
<rect x="419.30" y="262.60" width="9.20" height="9.80" fill="#fefbfb" />
<rect x="318.10" y="271.80" width="9.80" height="9.80" fill="#3872b4" />
<rect x="327.30" y="271.80" width="9.80" height="9.80" fill="#6895c6" />
<rect x="336.50" y="271.80" width="9.80" height="9.80" fill="#6d98c8" />
<rect x="345.70" y="271.80" width="9.80" height="9.80" fill="#d79099" />
<rect x="354.90" y="271.80" width="9.80" height="9.80" fill="#d79099" />
<rect x="364.10" y="271.80" width="9.80" height="9.80" fill="#db9ca3" />
<rect x="373.30" y="271.80" width="9.80" height="9.80" fill="#e9c4c8" />
<rect x="382.50" y="271.80" width="9.80" height="9.80" fill="#f8ebed" />
<rect x="391.70" y="271.80" width="9.80" height="9.80" fill="#fbf5f6" />
<rect x="400.90" y="271.80" width="9.80" height="9.80" fill="#fefdfd" />
<rect x="410.10" y="271.80" width="9.80" height="9.80" fill="#fefdfd" />
<rect x="419.30" y="271.80" width="9.20" height="9.80" fill="#f6e8e9" />
<rect x="318.10" y="281.00" width="9.80" height="9.80" fill="#5b8bc1" />
<rect x="327.30" y="281.00" width="9.80" height="9.80" fill="#6794c6" />
<rect x="336.50" y="281.00" width="9.80" height="9.80" fill="#6d98c8" />
<rect x="345.70" y="281.00" width="9.80" height="9.80" fill="#d998a0" />
<rect x="354.90" y="281.00" width="9.80" height="9.80" fill="#e1adb4" />
<rect x="364.10" y="281.00" width="9.80" height="9.80" fill="#dfa8af" />
<rect x="373.30" y="281.00" width="9.80" height="9.80" fill="#dfa7ae" />
<rect x="382.50" y="281.00" width="9.80" height="9.80" fill="#ebc8cc" />
<rect x="391.70" y="281.00" width="9.80" height="9.80" fill="#efd3d6" />
<rect x="400.90" y="281.00" width="9.80" height="9.80" fill="#c1d3e8" />
<rect x="410.10" y="281.00" width="9.80" height="9.80" fill="#c9d9ea" />
<rect x="419.30" y="281.00" width="9.20" height="9.80" fill="#c1d3e8" />
<rect x="318.10" y="290.20" width="9.80" height="9.80" fill="#5b8bc1" />
<rect x="327.30" y="290.20" width="9.80" height="9.80" fill="#6d98c8" />
<rect x="336.50" y="290.20" width="9.80" height="9.80" fill="#6895c6" />
<rect x="345.70" y="290.20" width="9.80" height="9.80" fill="#d2838d" />
<rect x="354.90" y="290.20" width="9.80" height="9.80" fill="#ce7984" />
<rect x="364.10" y="290.20" width="9.80" height="9.80" fill="#d1808a" />
<rect x="373.30" y="290.20" width="9.80" height="9.80" fill="#e9c4c8" />
<rect x="382.50" y="290.20" width="9.80" height="9.80" fill="#f4e0e3" />
<rect x="391.70" y="290.20" width="9.80" height="9.80" fill="#fbf3f4" />
<rect x="400.90" y="290.20" width="9.80" height="9.80" fill="#d5e2ef" />
<rect x="410.10" y="290.20" width="9.80" height="9.80" fill="#d4e0ef" />
<rect x="419.30" y="290.20" width="9.20" height="9.80" fill="#fefdfd" />
<rect x="318.10" y="299.40" width="9.80" height="9.80" fill="#6794c6" />
<rect x="327.30" y="299.40" width="9.80" height="9.80" fill="#6491c4" />
<rect x="336.50" y="299.40" width="9.80" height="9.80" fill="#5f8ec2" />
<rect x="345.70" y="299.40" width="9.80" height="9.80" fill="#d7929b" />
<rect x="354.90" y="299.40" width="9.80" height="9.80" fill="#d58d95" />
<rect x="364.10" y="299.40" width="9.80" height="9.80" fill="#ce7984" />
<rect x="373.30" y="299.40" width="9.80" height="9.80" fill="#edf3f8" />
<rect x="382.50" y="299.40" width="9.80" height="9.80" fill="#f6e5e7" />
<rect x="391.70" y="299.40" width="9.80" height="9.80" fill="#f3f6fa" />
<rect x="400.90" y="299.40" width="9.80" height="9.80" fill="#d0deed" />
<rect x="410.10" y="299.40" width="9.80" height="9.80" fill="#c7d7ea" />
<rect x="419.30" y="299.40" width="9.20" height="9.80" fill="#afc7e1" />
<rect x="318.10" y="308.60" width="9.80" height="9.80" fill="#6895c6" />
<rect x="327.30" y="308.60" width="9.80" height="9.80" fill="#6793c5" />
<rect x="336.50" y="308.60" width="9.80" height="9.80" fill="#6f9ac9" />
<rect x="345.70" y="308.60" width="9.80" height="9.80" fill="#d18089" />
<rect x="354.90" y="308.60" width="9.80" height="9.80" fill="#d79099" />
<rect x="364.10" y="308.60" width="9.80" height="9.80" fill="#d38790" />
<rect x="373.30" y="308.60" width="9.80" height="9.80" fill="#e2ebf4" />
<rect x="382.50" y="308.60" width="9.80" height="9.80" fill="#f0f4f9" />
<rect x="391.70" y="308.60" width="9.80" height="9.80" fill="#e6eef6" />
<rect x="400.90" y="308.60" width="9.80" height="9.80" fill="#bdd0e6" />
<rect x="410.10" y="308.60" width="9.80" height="9.80" fill="#c1d3e8" />
<rect x="419.30" y="308.60" width="9.20" height="9.80" fill="#bccfe6" />
<rect x="318.10" y="317.80" width="9.80" height="9.80" fill="#d9e4f1" />
<rect x="327.30" y="317.80" width="9.80" height="9.80" fill="#dee8f3" />
<rect x="336.50" y="317.80" width="9.80" height="9.80" fill="#e2ebf4" />
<rect x="345.70" y="317.80" width="9.80" height="9.80" fill="#b63747" />
<rect x="354.90" y="317.80" width="9.80" height="9.80" fill="#c35a67" />
<rect x="364.10" y="317.80" width="9.80" height="9.80" fill="#da9aa2" />
<rect x="373.30" y="317.80" width="9.80" height="9.80" fill="#adc5e0" />
<rect x="382.50" y="317.80" width="9.80" height="9.80" fill="#8caed3" />
<rect x="391.70" y="317.80" width="9.80" height="9.80" fill="#95b4d7" />
<rect x="400.90" y="317.80" width="9.80" height="9.80" fill="#94b3d6" />
<rect x="410.10" y="317.80" width="9.80" height="9.80" fill="#9bb8d9" />
<rect x="419.30" y="317.80" width="9.20" height="9.80" fill="#9dbada" />
<rect x="318.10" y="327.00" width="9.80" height="9.80" fill="#8fb0d5" />
<rect x="327.30" y="327.00" width="9.80" height="9.80" fill="#95b4d7" />
<rect x="336.50" y="327.00" width="9.80" height="9.80" fill="#95b4d7" />
<rect x="345.70" y="327.00" width="9.80" height="9.80" fill="#d79099" />
<rect x="354.90" y="327.00" width="9.80" height="9.80" fill="#d38790" />
<rect x="364.10" y="327.00" width="9.80" height="9.80" fill="#b02737" />
<rect x="373.30" y="327.00" width="9.80" height="9.80" fill="#b3cae2" />
<rect x="382.50" y="327.00" width="9.80" height="9.80" fill="#c9d9ea" />
<rect x="391.70" y="327.00" width="9.80" height="9.80" fill="#99b7d9" />
<rect x="400.90" y="327.00" width="9.80" height="9.80" fill="#b6cbe3" />
<rect x="410.10" y="327.00" width="9.80" height="9.80" fill="#a7c1de" />
<rect x="419.30" y="327.00" width="9.20" height="9.80" fill="#a2bddc" />
<rect x="318.10" y="336.20" width="9.80" height="9.80" fill="#edf3f8" />
<rect x="327.30" y="336.20" width="9.80" height="9.80" fill="#e6eef6" />
<rect x="336.50" y="336.20" width="9.80" height="9.80" fill="#dbe5f1" />
<rect x="345.70" y="336.20" width="9.80" height="9.80" fill="#598ac0" />
<rect x="354.90" y="336.20" width="9.80" height="9.80" fill="#6995c7" />
<rect x="364.10" y="336.20" width="9.80" height="9.80" fill="#6491c4" />
<rect x="373.30" y="336.20" width="9.80" height="9.80" fill="#d68e97" />
<rect x="382.50" y="336.20" width="9.80" height="9.80" fill="#d7929b" />
<rect x="391.70" y="336.20" width="9.80" height="9.80" fill="#e2b0b6" />
<rect x="400.90" y="336.20" width="9.80" height="9.80" fill="#e3b2b8" />
<rect x="410.10" y="336.20" width="9.80" height="9.80" fill="#e0a9b0" />
<rect x="419.30" y="336.20" width="9.20" height="9.80" fill="#dda1a9" />
<rect x="318.10" y="345.40" width="9.80" height="9.80" fill="#6592c5" />
<rect x="327.30" y="345.40" width="9.80" height="9.80" fill="#5285be" />
<rect x="336.50" y="345.40" width="9.80" height="9.80" fill="#608ec3" />
<rect x="345.70" y="345.40" width="9.80" height="9.80" fill="#7da3ce" />
<rect x="354.90" y="345.40" width="9.80" height="9.80" fill="#f6f8fb" />
<rect x="364.10" y="345.40" width="9.80" height="9.80" fill="#c6d6e9" />
<rect x="373.30" y="345.40" width="9.80" height="9.80" fill="#e4b6bc" />
<rect x="382.50" y="345.40" width="9.80" height="9.80" fill="#da9aa2" />
<rect x="391.70" y="345.40" width="9.80" height="9.80" fill="#c96c77" />
<rect x="400.90" y="345.40" width="9.80" height="9.80" fill="#e4b6bc" />
<rect x="410.10" y="345.40" width="9.80" height="9.80" fill="#f0d7da" />
<rect x="419.30" y="345.40" width="9.20" height="9.80" fill="#f2dbdd" />
<rect x="318.10" y="354.60" width="9.80" height="9.80" fill="#6f9ac9" />
<rect x="327.30" y="354.60" width="9.80" height="9.80" fill="#4078b7" />
<rect x="336.50" y="354.60" width="9.80" height="9.80" fill="#6895c6" />
<rect x="345.70" y="354.60" width="9.80" height="9.80" fill="#89abd2" />
<rect x="354.90" y="354.60" width="9.80" height="9.80" fill="#e6eef6" />
<rect x="364.10" y="354.60" width="9.80" height="9.80" fill="#faf2f3" />
<rect x="373.30" y="354.60" width="9.80" height="9.80" fill="#be4d5b" />
<rect x="382.50" y="354.60" width="9.80" height="9.80" fill="#db9ca3" />
<rect x="391.70" y="354.60" width="9.80" height="9.80" fill="#d38790" />
<rect x="400.90" y="354.60" width="9.80" height="9.80" fill="#f0d7da" />
<rect x="410.10" y="354.60" width="9.80" height="9.80" fill="#dda1a8" />
<rect x="419.30" y="354.60" width="9.20" height="9.80" fill="#d7e3f0" />
<rect x="318.10" y="363.80" width="9.80" height="9.20" fill="#1e60aa" />
<rect x="327.30" y="363.80" width="9.80" height="9.20" fill="#6a96c7" />
<rect x="336.50" y="363.80" width="9.80" height="9.20" fill="#729cca" />
<rect x="345.70" y="363.80" width="9.80" height="9.20" fill="#e0e9f3" />
<rect x="354.90" y="363.80" width="9.80" height="9.20" fill="#ebf1f7" />
<rect x="364.10" y="363.80" width="9.80" height="9.20" fill="#f8ebed" />
<rect x="373.30" y="363.80" width="9.80" height="9.20" fill="#eecfd3" />
<rect x="382.50" y="363.80" width="9.80" height="9.20" fill="#e9c2c6" />
<rect x="391.70" y="363.80" width="9.80" height="9.20" fill="#bc4957" />
<rect x="400.90" y="363.80" width="9.80" height="9.20" fill="#b6cbe3" />
<rect x="410.10" y="363.80" width="9.80" height="9.20" fill="#ecccd0" />
<rect x="419.30" y="363.80" width="9.20" height="9.20" fill="#efd3d6" />
<g font-size="3.1" fill="#1e2a44" fill-opacity="0.85" text-anchor="middle">
<text x="322.70" y="157.80" textLength="6.60" lengthAdjust="spacingAndGlyphs">−0.95</text>
<text x="331.90" y="157.80" textLength="6.60" lengthAdjust="spacingAndGlyphs">−1.00</text>
<text x="341.10" y="157.80" textLength="6.60" lengthAdjust="spacingAndGlyphs">−1.30</text>
<text x="350.30" y="157.80" textLength="6.60" lengthAdjust="spacingAndGlyphs">−0.07</text>
<text x="359.50" y="157.80" textLength="5.28" lengthAdjust="spacingAndGlyphs">0.07</text>
<text x="368.70" y="157.80" textLength="5.28" lengthAdjust="spacingAndGlyphs">0.15</text>
<text x="377.90" y="157.80" textLength="5.28" lengthAdjust="spacingAndGlyphs">1.06</text>
<text x="387.10" y="157.80" textLength="5.28" lengthAdjust="spacingAndGlyphs">0.19</text>
<text x="396.30" y="157.80" textLength="6.60" lengthAdjust="spacingAndGlyphs">−0.42</text>
<text x="405.50" y="157.80" textLength="6.60" lengthAdjust="spacingAndGlyphs">−0.20</text>
<text x="414.70" y="157.80" textLength="5.28" lengthAdjust="spacingAndGlyphs">1.05</text>
<text x="423.90" y="157.80" textLength="5.28" lengthAdjust="spacingAndGlyphs">1.06</text>
<text x="322.70" y="167.00" textLength="6.60" lengthAdjust="spacingAndGlyphs">−1.30</text>
<text x="331.90" y="167.00" textLength="6.60" lengthAdjust="spacingAndGlyphs">−1.20</text>
<text x="341.10" y="167.00" textLength="6.60" lengthAdjust="spacingAndGlyphs">−1.20</text>
<text x="350.30" y="167.00" textLength="5.28" lengthAdjust="spacingAndGlyphs">1.15</text>
<text x="359.50" y="167.00" textLength="5.28" lengthAdjust="spacingAndGlyphs">0.35</text>
<text x="368.70" y="167.00" textLength="5.28" lengthAdjust="spacingAndGlyphs">0.30</text>
<text x="377.90" y="167.00" textLength="6.60" lengthAdjust="spacingAndGlyphs">−0.29</text>
<text x="387.10" y="167.00" textLength="5.28" lengthAdjust="spacingAndGlyphs">0.81</text>
<text x="396.30" y="167.00" textLength="6.60" lengthAdjust="spacingAndGlyphs">−0.04</text>
<text x="405.50" y="167.00" textLength="5.28" lengthAdjust="spacingAndGlyphs">0.00</text>
<text x="414.70" y="167.00" textLength="5.28" lengthAdjust="spacingAndGlyphs">0.62</text>
<text x="423.90" y="167.00" textLength="5.28" lengthAdjust="spacingAndGlyphs">0.72</text>
<text x="322.70" y="176.20" textLength="6.60" lengthAdjust="spacingAndGlyphs">−1.30</text>
<text x="331.90" y="176.20" textLength="6.60" lengthAdjust="spacingAndGlyphs">−1.20</text>
<text x="341.10" y="176.20" textLength="6.60" lengthAdjust="spacingAndGlyphs">−1.20</text>
<text x="350.30" y="176.20" textLength="5.28" lengthAdjust="spacingAndGlyphs">1.20</text>
<text x="359.50" y="176.20" textLength="5.28" lengthAdjust="spacingAndGlyphs">0.10</text>
<text x="368.70" y="176.20" textLength="5.28" lengthAdjust="spacingAndGlyphs">0.10</text>
<text x="377.90" y="176.20" textLength="5.28" lengthAdjust="spacingAndGlyphs">0.55</text>
<text x="387.10" y="176.20" textLength="5.28" lengthAdjust="spacingAndGlyphs">0.14</text>
<text x="396.30" y="176.20" textLength="5.28" lengthAdjust="spacingAndGlyphs">0.58</text>
<text x="405.50" y="176.20" textLength="6.60" lengthAdjust="spacingAndGlyphs">−0.07</text>
<text x="414.70" y="176.20" textLength="5.28" lengthAdjust="spacingAndGlyphs">0.50</text>
<text x="423.90" y="176.20" textLength="5.28" lengthAdjust="spacingAndGlyphs">0.61</text>
<text x="322.70" y="185.40" textLength="6.60" lengthAdjust="spacingAndGlyphs">−1.30</text>
<text x="331.90" y="185.40" textLength="6.60" lengthAdjust="spacingAndGlyphs">−1.30</text>
<text x="341.10" y="185.40" textLength="6.60" lengthAdjust="spacingAndGlyphs">−1.30</text>
<text x="350.30" y="185.40" textLength="5.28" lengthAdjust="spacingAndGlyphs">0.07</text>
<text x="359.50" y="185.40" textLength="5.28" lengthAdjust="spacingAndGlyphs">0.40</text>
<text x="368.70" y="185.40" textLength="5.28" lengthAdjust="spacingAndGlyphs">0.30</text>
<text x="377.90" y="185.40" textLength="5.28" lengthAdjust="spacingAndGlyphs">0.80</text>
<text x="387.10" y="185.40" textLength="5.28" lengthAdjust="spacingAndGlyphs">0.55</text>
<text x="396.30" y="185.40" textLength="5.28" lengthAdjust="spacingAndGlyphs">0.65</text>
<text x="405.50" y="185.40" textLength="5.28" lengthAdjust="spacingAndGlyphs">0.19</text>
<text x="414.70" y="185.40" textLength="5.28" lengthAdjust="spacingAndGlyphs">0.50</text>
<text x="423.90" y="185.40" textLength="5.28" lengthAdjust="spacingAndGlyphs">0.41</text>
<text x="322.70" y="194.60" textLength="6.60" lengthAdjust="spacingAndGlyphs">−0.85</text>
<text x="331.90" y="194.60" textLength="6.60" lengthAdjust="spacingAndGlyphs">−0.95</text>
<text x="341.10" y="194.60" textLength="6.60" lengthAdjust="spacingAndGlyphs">−0.60</text>
<text x="350.30" y="194.60" textLength="5.28" lengthAdjust="spacingAndGlyphs">0.05</text>
<text x="359.50" y="194.60" textLength="6.60" lengthAdjust="spacingAndGlyphs">−0.10</text>
<text x="368.70" y="194.60" textLength="6.60" lengthAdjust="spacingAndGlyphs">−0.10</text>
<text x="377.90" y="194.60" textLength="5.28" lengthAdjust="spacingAndGlyphs">1.10</text>
<text x="387.10" y="194.60" textLength="5.28" lengthAdjust="spacingAndGlyphs">2.40</text>
<text x="396.30" y="194.60" textLength="5.28" lengthAdjust="spacingAndGlyphs">0.58</text>
<text x="405.50" y="194.60" textLength="6.60" lengthAdjust="spacingAndGlyphs">−0.30</text>
<text x="414.70" y="194.60" textLength="6.60" lengthAdjust="spacingAndGlyphs">−0.10</text>
<text x="423.90" y="194.60" textLength="5.28" lengthAdjust="spacingAndGlyphs">0.11</text>
<text x="322.70" y="203.80" textLength="6.60" lengthAdjust="spacingAndGlyphs">−1.20</text>
<text x="331.90" y="203.80" textLength="6.60" lengthAdjust="spacingAndGlyphs">−1.10</text>
<text x="341.10" y="203.80" textLength="6.60" lengthAdjust="spacingAndGlyphs">−1.20</text>
<text x="350.30" y="203.80" textLength="5.28" lengthAdjust="spacingAndGlyphs">0.30</text>
<text x="359.50" y="203.80" textLength="6.60" lengthAdjust="spacingAndGlyphs">−0.10</text>
<text x="368.70" y="203.80" textLength="5.28" lengthAdjust="spacingAndGlyphs">0.10</text>
<text x="377.90" y="203.80" textLength="5.28" lengthAdjust="spacingAndGlyphs">1.11</text>
<text x="387.10" y="203.80" textLength="5.28" lengthAdjust="spacingAndGlyphs">1.48</text>
<text x="396.30" y="203.80" textLength="5.28" lengthAdjust="spacingAndGlyphs">1.00</text>
<text x="405.50" y="203.80" textLength="6.60" lengthAdjust="spacingAndGlyphs">−0.02</text>
<text x="414.70" y="203.80" textLength="6.60" lengthAdjust="spacingAndGlyphs">−0.13</text>
<text x="423.90" y="203.80" textLength="5.28" lengthAdjust="spacingAndGlyphs">0.46</text>
<text x="322.70" y="213.00" textLength="6.60" lengthAdjust="spacingAndGlyphs">−1.08</text>
<text x="331.90" y="213.00" textLength="6.60" lengthAdjust="spacingAndGlyphs">−1.10</text>
<text x="341.10" y="213.00" textLength="6.60" lengthAdjust="spacingAndGlyphs">−0.86</text>
<text x="350.30" y="213.00" textLength="5.28" lengthAdjust="spacingAndGlyphs">0.05</text>
<text x="359.50" y="213.00" textLength="5.28" lengthAdjust="spacingAndGlyphs">1.10</text>
<text x="368.70" y="213.00" textLength="5.28" lengthAdjust="spacingAndGlyphs">0.04</text>
<text x="377.90" y="213.00" textLength="5.28" lengthAdjust="spacingAndGlyphs">0.54</text>
<text x="387.10" y="213.00" textLength="5.28" lengthAdjust="spacingAndGlyphs">1.20</text>
<text x="396.30" y="213.00" textLength="5.28" lengthAdjust="spacingAndGlyphs">0.06</text>
<text x="405.50" y="213.00" textLength="6.60" lengthAdjust="spacingAndGlyphs">−0.83</text>
<text x="414.70" y="213.00" textLength="5.28" lengthAdjust="spacingAndGlyphs">0.06</text>
<text x="423.90" y="213.00" textLength="6.60" lengthAdjust="spacingAndGlyphs">−0.16</text>
<text x="322.70" y="222.20" textLength="6.60" lengthAdjust="spacingAndGlyphs">−0.99</text>
<text x="331.90" y="222.20" textLength="6.60" lengthAdjust="spacingAndGlyphs">−1.45</text>
<text x="341.10" y="222.20" textLength="6.60" lengthAdjust="spacingAndGlyphs">−1.15</text>
<text x="350.30" y="222.20" textLength="5.28" lengthAdjust="spacingAndGlyphs">1.30</text>
<text x="359.50" y="222.20" textLength="5.28" lengthAdjust="spacingAndGlyphs">0.11</text>
<text x="368.70" y="222.20" textLength="5.28" lengthAdjust="spacingAndGlyphs">0.17</text>
<text x="377.90" y="222.20" textLength="5.28" lengthAdjust="spacingAndGlyphs">1.30</text>
<text x="387.10" y="222.20" textLength="5.28" lengthAdjust="spacingAndGlyphs">0.64</text>
<text x="396.30" y="222.20" textLength="5.28" lengthAdjust="spacingAndGlyphs">0.08</text>
<text x="405.50" y="222.20" textLength="6.60" lengthAdjust="spacingAndGlyphs">−0.04</text>
<text x="414.70" y="222.20" textLength="6.60" lengthAdjust="spacingAndGlyphs">−0.11</text>
<text x="423.90" y="222.20" textLength="6.60" lengthAdjust="spacingAndGlyphs">−0.30</text>
<text x="322.70" y="231.40" textLength="6.60" lengthAdjust="spacingAndGlyphs">−1.13</text>
<text x="331.90" y="231.40" textLength="6.60" lengthAdjust="spacingAndGlyphs">−1.07</text>
<text x="341.10" y="231.40" textLength="6.60" lengthAdjust="spacingAndGlyphs">−1.07</text>
<text x="350.30" y="231.40" textLength="5.28" lengthAdjust="spacingAndGlyphs">0.47</text>
<text x="359.50" y="231.40" textLength="5.28" lengthAdjust="spacingAndGlyphs">0.57</text>
<text x="368.70" y="231.40" textLength="6.60" lengthAdjust="spacingAndGlyphs">−0.35</text>
<text x="377.90" y="231.40" textLength="5.28" lengthAdjust="spacingAndGlyphs">0.60</text>
<text x="387.10" y="231.40" textLength="5.28" lengthAdjust="spacingAndGlyphs">0.40</text>
<text x="396.30" y="231.40" textLength="6.60" lengthAdjust="spacingAndGlyphs">−0.48</text>
<text x="405.50" y="231.40" textLength="5.28" lengthAdjust="spacingAndGlyphs">1.80</text>
<text x="414.70" y="231.40" textLength="6.60" lengthAdjust="spacingAndGlyphs">−0.05</text>
<text x="423.90" y="231.40" textLength="6.60" lengthAdjust="spacingAndGlyphs">−0.60</text>
<text x="322.70" y="240.60" textLength="6.60" lengthAdjust="spacingAndGlyphs">−1.02</text>
<text x="331.90" y="240.60" textLength="6.60" lengthAdjust="spacingAndGlyphs">−1.07</text>
<text x="341.10" y="240.60" textLength="6.60" lengthAdjust="spacingAndGlyphs">−1.08</text>
<text x="350.30" y="240.60" textLength="5.28" lengthAdjust="spacingAndGlyphs">0.75</text>
<text x="359.50" y="240.60" textLength="5.28" lengthAdjust="spacingAndGlyphs">1.37</text>
<text x="368.70" y="240.60" textLength="6.60" lengthAdjust="spacingAndGlyphs">−0.07</text>
<text x="377.90" y="240.60" textLength="5.28" lengthAdjust="spacingAndGlyphs">0.34</text>
<text x="387.10" y="240.60" textLength="5.28" lengthAdjust="spacingAndGlyphs">0.01</text>
<text x="396.30" y="240.60" textLength="5.28" lengthAdjust="spacingAndGlyphs">0.44</text>
<text x="405.50" y="240.60" textLength="5.28" lengthAdjust="spacingAndGlyphs">0.76</text>
<text x="414.70" y="240.60" textLength="6.60" lengthAdjust="spacingAndGlyphs">−0.25</text>
<text x="423.90" y="240.60" textLength="6.60" lengthAdjust="spacingAndGlyphs">−0.36</text>
<text x="322.70" y="249.80" textLength="6.60" lengthAdjust="spacingAndGlyphs">−1.03</text>
<text x="331.90" y="249.80" textLength="6.60" lengthAdjust="spacingAndGlyphs">−0.83</text>
<text x="341.10" y="249.80" textLength="6.60" lengthAdjust="spacingAndGlyphs">−1.07</text>
<text x="350.30" y="249.80" textLength="5.28" lengthAdjust="spacingAndGlyphs">0.60</text>
<text x="359.50" y="249.80" textLength="5.28" lengthAdjust="spacingAndGlyphs">0.41</text>
<text x="368.70" y="249.80" textLength="5.28" lengthAdjust="spacingAndGlyphs">1.00</text>
<text x="377.90" y="249.80" textLength="5.28" lengthAdjust="spacingAndGlyphs">1.14</text>
<text x="387.10" y="249.80" textLength="5.28" lengthAdjust="spacingAndGlyphs">1.00</text>
<text x="396.30" y="249.80" textLength="6.60" lengthAdjust="spacingAndGlyphs">−0.55</text>
<text x="405.50" y="249.80" textLength="6.60" lengthAdjust="spacingAndGlyphs">−0.47</text>
<text x="414.70" y="249.80" textLength="5.28" lengthAdjust="spacingAndGlyphs">0.00</text>
<text x="423.90" y="249.80" textLength="6.60" lengthAdjust="spacingAndGlyphs">−0.33</text>
<text x="322.70" y="259.00" textLength="6.60" lengthAdjust="spacingAndGlyphs">−1.06</text>
<text x="331.90" y="259.00" textLength="6.60" lengthAdjust="spacingAndGlyphs">−1.08</text>
<text x="341.10" y="259.00" textLength="6.60" lengthAdjust="spacingAndGlyphs">−1.11</text>
<text x="350.30" y="259.00" textLength="5.28" lengthAdjust="spacingAndGlyphs">0.86</text>
<text x="359.50" y="259.00" textLength="5.28" lengthAdjust="spacingAndGlyphs">0.36</text>
<text x="368.70" y="259.00" textLength="5.28" lengthAdjust="spacingAndGlyphs">1.09</text>
<text x="377.90" y="259.00" textLength="5.28" lengthAdjust="spacingAndGlyphs">0.05</text>
<text x="387.10" y="259.00" textLength="6.60" lengthAdjust="spacingAndGlyphs">−0.48</text>
<text x="396.30" y="259.00" textLength="5.28" lengthAdjust="spacingAndGlyphs">0.97</text>
<text x="405.50" y="259.00" textLength="5.28" lengthAdjust="spacingAndGlyphs">0.22</text>
<text x="414.70" y="259.00" textLength="5.28" lengthAdjust="spacingAndGlyphs">0.17</text>
<text x="423.90" y="259.00" textLength="5.28" lengthAdjust="spacingAndGlyphs">0.17</text>
<text x="322.70" y="268.20" textLength="6.60" lengthAdjust="spacingAndGlyphs">−1.05</text>
<text x="331.90" y="268.20" textLength="6.60" lengthAdjust="spacingAndGlyphs">−1.38</text>
<text x="341.10" y="268.20" textLength="6.60" lengthAdjust="spacingAndGlyphs">−1.08</text>
<text x="350.30" y="268.20" textLength="5.28" lengthAdjust="spacingAndGlyphs">0.95</text>
<text x="359.50" y="268.20" textLength="5.28" lengthAdjust="spacingAndGlyphs">1.15</text>
<text x="368.70" y="268.20" textLength="5.28" lengthAdjust="spacingAndGlyphs">0.85</text>
<text x="377.90" y="268.20" textLength="5.28" lengthAdjust="spacingAndGlyphs">0.61</text>
<text x="387.10" y="268.20" textLength="6.60" lengthAdjust="spacingAndGlyphs">−0.08</text>
<text x="396.30" y="268.20" textLength="6.60" lengthAdjust="spacingAndGlyphs">−0.14</text>
<text x="405.50" y="268.20" textLength="5.28" lengthAdjust="spacingAndGlyphs">0.05</text>
<text x="414.70" y="268.20" textLength="5.28" lengthAdjust="spacingAndGlyphs">0.07</text>
<text x="423.90" y="268.20" textLength="5.28" lengthAdjust="spacingAndGlyphs">0.02</text>
<text x="322.70" y="277.40" textLength="6.60" lengthAdjust="spacingAndGlyphs">−1.60</text>
<text x="331.90" y="277.40" textLength="6.60" lengthAdjust="spacingAndGlyphs">−1.07</text>
<text x="341.10" y="277.40" textLength="6.60" lengthAdjust="spacingAndGlyphs">−1.02</text>
<text x="350.30" y="277.40" textLength="5.28" lengthAdjust="spacingAndGlyphs">1.00</text>
<text x="359.50" y="277.40" textLength="5.28" lengthAdjust="spacingAndGlyphs">1.00</text>
<text x="368.70" y="277.40" textLength="5.28" lengthAdjust="spacingAndGlyphs">0.88</text>
<text x="377.90" y="277.40" textLength="5.28" lengthAdjust="spacingAndGlyphs">0.48</text>
<text x="387.10" y="277.40" textLength="5.28" lengthAdjust="spacingAndGlyphs">0.13</text>
<text x="396.30" y="277.40" textLength="5.28" lengthAdjust="spacingAndGlyphs">0.06</text>
<text x="405.50" y="277.40" textLength="5.28" lengthAdjust="spacingAndGlyphs">0.01</text>
<text x="414.70" y="277.40" textLength="5.28" lengthAdjust="spacingAndGlyphs">0.01</text>
<text x="423.90" y="277.40" textLength="5.28" lengthAdjust="spacingAndGlyphs">0.16</text>
<text x="322.70" y="286.60" textLength="6.60" lengthAdjust="spacingAndGlyphs">−1.21</text>
<text x="331.90" y="286.60" textLength="6.60" lengthAdjust="spacingAndGlyphs">−1.08</text>
<text x="341.10" y="286.60" textLength="6.60" lengthAdjust="spacingAndGlyphs">−1.02</text>
<text x="350.30" y="286.60" textLength="5.28" lengthAdjust="spacingAndGlyphs">0.92</text>
<text x="359.50" y="286.60" textLength="5.28" lengthAdjust="spacingAndGlyphs">0.70</text>
<text x="368.70" y="286.60" textLength="5.28" lengthAdjust="spacingAndGlyphs">0.75</text>
<text x="377.90" y="286.60" textLength="5.28" lengthAdjust="spacingAndGlyphs">0.76</text>
<text x="387.10" y="286.60" textLength="5.28" lengthAdjust="spacingAndGlyphs">0.44</text>
<text x="396.30" y="286.60" textLength="5.28" lengthAdjust="spacingAndGlyphs">0.34</text>
<text x="405.50" y="286.60" textLength="6.60" lengthAdjust="spacingAndGlyphs">−0.30</text>
<text x="414.70" y="286.60" textLength="6.60" lengthAdjust="spacingAndGlyphs">−0.25</text>
<text x="423.90" y="286.60" textLength="6.60" lengthAdjust="spacingAndGlyphs">−0.30</text>
<text x="322.70" y="295.80" textLength="6.60" lengthAdjust="spacingAndGlyphs">−1.21</text>
<text x="331.90" y="295.80" textLength="6.60" lengthAdjust="spacingAndGlyphs">−1.02</text>
<text x="341.10" y="295.80" textLength="6.60" lengthAdjust="spacingAndGlyphs">−1.07</text>
<text x="350.30" y="295.80" textLength="5.28" lengthAdjust="spacingAndGlyphs">1.14</text>
<text x="359.50" y="295.80" textLength="5.28" lengthAdjust="spacingAndGlyphs">1.25</text>
<text x="368.70" y="295.80" textLength="5.28" lengthAdjust="spacingAndGlyphs">1.17</text>
<text x="377.90" y="295.80" textLength="5.28" lengthAdjust="spacingAndGlyphs">0.48</text>
<text x="387.10" y="295.80" textLength="5.28" lengthAdjust="spacingAndGlyphs">0.22</text>
<text x="396.30" y="295.80" textLength="5.28" lengthAdjust="spacingAndGlyphs">0.07</text>
<text x="405.50" y="295.80" textLength="6.60" lengthAdjust="spacingAndGlyphs">−0.17</text>
<text x="414.70" y="295.80" textLength="6.60" lengthAdjust="spacingAndGlyphs">−0.18</text>
<text x="423.90" y="295.80" textLength="5.28" lengthAdjust="spacingAndGlyphs">0.01</text>
<text x="322.70" y="305.00" textLength="6.60" lengthAdjust="spacingAndGlyphs">−1.08</text>
<text x="331.90" y="305.00" textLength="6.60" lengthAdjust="spacingAndGlyphs">−1.12</text>
<text x="341.10" y="305.00" textLength="6.60" lengthAdjust="spacingAndGlyphs">−1.17</text>
<text x="350.30" y="305.00" textLength="5.28" lengthAdjust="spacingAndGlyphs">0.98</text>
<text x="359.50" y="305.00" textLength="5.28" lengthAdjust="spacingAndGlyphs">1.04</text>
<text x="368.70" y="305.00" textLength="5.28" lengthAdjust="spacingAndGlyphs">1.25</text>
<text x="377.90" y="305.00" textLength="6.60" lengthAdjust="spacingAndGlyphs">−0.05</text>
<text x="387.10" y="305.00" textLength="5.28" lengthAdjust="spacingAndGlyphs">0.18</text>
<text x="396.30" y="305.00" textLength="6.60" lengthAdjust="spacingAndGlyphs">−0.03</text>
<text x="405.50" y="305.00" textLength="6.60" lengthAdjust="spacingAndGlyphs">−0.20</text>
<text x="414.70" y="305.00" textLength="6.60" lengthAdjust="spacingAndGlyphs">−0.26</text>
<text x="423.90" y="305.00" textLength="6.60" lengthAdjust="spacingAndGlyphs">−0.43</text>
<text x="322.70" y="314.20" textLength="6.60" lengthAdjust="spacingAndGlyphs">−1.07</text>
<text x="331.90" y="314.20" textLength="6.60" lengthAdjust="spacingAndGlyphs">−1.09</text>
<text x="341.10" y="314.20" textLength="6.60" lengthAdjust="spacingAndGlyphs">−1.00</text>
<text x="350.30" y="314.20" textLength="5.28" lengthAdjust="spacingAndGlyphs">1.18</text>
<text x="359.50" y="314.20" textLength="5.28" lengthAdjust="spacingAndGlyphs">1.00</text>
<text x="368.70" y="314.20" textLength="5.28" lengthAdjust="spacingAndGlyphs">1.10</text>
<text x="377.90" y="314.20" textLength="6.60" lengthAdjust="spacingAndGlyphs">−0.10</text>
<text x="387.10" y="314.20" textLength="6.60" lengthAdjust="spacingAndGlyphs">−0.04</text>
<text x="396.30" y="314.20" textLength="6.60" lengthAdjust="spacingAndGlyphs">−0.08</text>
<text x="405.50" y="314.20" textLength="6.60" lengthAdjust="spacingAndGlyphs">−0.33</text>
<text x="414.70" y="314.20" textLength="6.60" lengthAdjust="spacingAndGlyphs">−0.30</text>
<text x="423.90" y="314.20" textLength="6.60" lengthAdjust="spacingAndGlyphs">−0.34</text>
<text x="322.70" y="323.40" textLength="6.60" lengthAdjust="spacingAndGlyphs">−0.15</text>
<text x="331.90" y="323.40" textLength="6.60" lengthAdjust="spacingAndGlyphs">−0.12</text>
<text x="341.10" y="323.40" textLength="6.60" lengthAdjust="spacingAndGlyphs">−0.10</text>
<text x="350.30" y="323.40" textLength="5.28" lengthAdjust="spacingAndGlyphs">2.00</text>
<text x="359.50" y="323.40" textLength="5.28" lengthAdjust="spacingAndGlyphs">1.60</text>
<text x="368.70" y="323.40" textLength="5.28" lengthAdjust="spacingAndGlyphs">0.90</text>
<text x="377.90" y="323.40" textLength="6.60" lengthAdjust="spacingAndGlyphs">−0.45</text>
<text x="387.10" y="323.40" textLength="6.60" lengthAdjust="spacingAndGlyphs">−0.73</text>
<text x="396.30" y="323.40" textLength="6.60" lengthAdjust="spacingAndGlyphs">−0.65</text>
<text x="405.50" y="323.40" textLength="6.60" lengthAdjust="spacingAndGlyphs">−0.66</text>
<text x="414.70" y="323.40" textLength="6.60" lengthAdjust="spacingAndGlyphs">−0.60</text>
<text x="423.90" y="323.40" textLength="6.60" lengthAdjust="spacingAndGlyphs">−0.58</text>
<text x="322.70" y="332.60" textLength="6.60" lengthAdjust="spacingAndGlyphs">−0.70</text>
<text x="331.90" y="332.60" textLength="6.60" lengthAdjust="spacingAndGlyphs">−0.65</text>
<text x="341.10" y="332.60" textLength="6.60" lengthAdjust="spacingAndGlyphs">−0.65</text>
<text x="350.30" y="332.60" textLength="5.28" lengthAdjust="spacingAndGlyphs">1.00</text>
<text x="359.50" y="332.60" textLength="5.28" lengthAdjust="spacingAndGlyphs">1.10</text>
<text x="368.70" y="332.60" textLength="5.28" lengthAdjust="spacingAndGlyphs">2.20</text>
<text x="377.90" y="332.60" textLength="6.60" lengthAdjust="spacingAndGlyphs">−0.40</text>
<text x="387.10" y="332.60" textLength="6.60" lengthAdjust="spacingAndGlyphs">−0.25</text>
<text x="396.30" y="332.60" textLength="6.60" lengthAdjust="spacingAndGlyphs">−0.61</text>
<text x="405.50" y="332.60" textLength="6.60" lengthAdjust="spacingAndGlyphs">−0.38</text>
<text x="414.70" y="332.60" textLength="6.60" lengthAdjust="spacingAndGlyphs">−0.50</text>
<text x="423.90" y="332.60" textLength="6.60" lengthAdjust="spacingAndGlyphs">−0.54</text>
<text x="322.70" y="341.80" textLength="6.60" lengthAdjust="spacingAndGlyphs">−0.05</text>
<text x="331.90" y="341.80" textLength="6.60" lengthAdjust="spacingAndGlyphs">−0.08</text>
<text x="341.10" y="341.80" textLength="6.60" lengthAdjust="spacingAndGlyphs">−0.14</text>
<text x="350.30" y="341.80" textLength="6.60" lengthAdjust="spacingAndGlyphs">−1.23</text>
<text x="359.50" y="341.80" textLength="6.60" lengthAdjust="spacingAndGlyphs">−1.06</text>
<text x="368.70" y="341.80" textLength="6.60" lengthAdjust="spacingAndGlyphs">−1.12</text>
<text x="377.90" y="341.80" textLength="5.28" lengthAdjust="spacingAndGlyphs">1.02</text>
<text x="387.10" y="341.80" textLength="5.28" lengthAdjust="spacingAndGlyphs">0.98</text>
<text x="396.30" y="341.80" textLength="5.28" lengthAdjust="spacingAndGlyphs">0.67</text>
<text x="405.50" y="341.80" textLength="5.28" lengthAdjust="spacingAndGlyphs">0.65</text>
<text x="414.70" y="341.80" textLength="5.28" lengthAdjust="spacingAndGlyphs">0.74</text>
<text x="423.90" y="341.80" textLength="5.28" lengthAdjust="spacingAndGlyphs">0.82</text>
<text x="322.70" y="351.00" textLength="6.60" lengthAdjust="spacingAndGlyphs">−1.11</text>
<text x="331.90" y="351.00" textLength="6.60" lengthAdjust="spacingAndGlyphs">−1.30</text>
<text x="341.10" y="351.00" textLength="6.60" lengthAdjust="spacingAndGlyphs">−1.16</text>
<text x="350.30" y="351.00" textLength="6.60" lengthAdjust="spacingAndGlyphs">−0.87</text>
<text x="359.50" y="351.00" textLength="6.60" lengthAdjust="spacingAndGlyphs">−0.02</text>
<text x="368.70" y="351.00" textLength="6.60" lengthAdjust="spacingAndGlyphs">−0.27</text>
<text x="377.90" y="351.00" textLength="5.28" lengthAdjust="spacingAndGlyphs">0.61</text>
<text x="387.10" y="351.00" textLength="5.28" lengthAdjust="spacingAndGlyphs">0.90</text>
<text x="396.30" y="351.00" textLength="5.28" lengthAdjust="spacingAndGlyphs">1.40</text>
<text x="405.50" y="351.00" textLength="5.28" lengthAdjust="spacingAndGlyphs">0.61</text>
<text x="414.70" y="351.00" textLength="5.28" lengthAdjust="spacingAndGlyphs">0.30</text>
<text x="423.90" y="351.00" textLength="5.28" lengthAdjust="spacingAndGlyphs">0.27</text>
<text x="322.70" y="360.20" textLength="6.60" lengthAdjust="spacingAndGlyphs">−1.00</text>
<text x="331.90" y="360.20" textLength="6.60" lengthAdjust="spacingAndGlyphs">−1.50</text>
<text x="341.10" y="360.20" textLength="6.60" lengthAdjust="spacingAndGlyphs">−1.07</text>
<text x="350.30" y="360.20" textLength="6.60" lengthAdjust="spacingAndGlyphs">−0.76</text>
<text x="359.50" y="360.20" textLength="6.60" lengthAdjust="spacingAndGlyphs">−0.08</text>
<text x="368.70" y="360.20" textLength="5.28" lengthAdjust="spacingAndGlyphs">0.08</text>
<text x="377.90" y="360.20" textLength="5.28" lengthAdjust="spacingAndGlyphs">1.75</text>
<text x="387.10" y="360.20" textLength="5.28" lengthAdjust="spacingAndGlyphs">0.88</text>
<text x="396.30" y="360.20" textLength="5.28" lengthAdjust="spacingAndGlyphs">1.10</text>
<text x="405.50" y="360.20" textLength="5.28" lengthAdjust="spacingAndGlyphs">0.30</text>
<text x="414.70" y="360.20" textLength="5.28" lengthAdjust="spacingAndGlyphs">0.83</text>
<text x="423.90" y="360.20" textLength="6.60" lengthAdjust="spacingAndGlyphs">−0.16</text>
<text x="322.70" y="369.40" textLength="6.60" lengthAdjust="spacingAndGlyphs">−1.90</text>
<text x="331.90" y="369.40" textLength="6.60" lengthAdjust="spacingAndGlyphs">−1.05</text>
<text x="341.10" y="369.40" textLength="6.60" lengthAdjust="spacingAndGlyphs">−0.97</text>
<text x="350.30" y="369.40" textLength="6.60" lengthAdjust="spacingAndGlyphs">−0.11</text>
<text x="359.50" y="369.40" textLength="6.60" lengthAdjust="spacingAndGlyphs">−0.06</text>
<text x="368.70" y="369.40" textLength="5.28" lengthAdjust="spacingAndGlyphs">0.13</text>
<text x="377.90" y="369.40" textLength="5.28" lengthAdjust="spacingAndGlyphs">0.37</text>
<text x="387.10" y="369.40" textLength="5.28" lengthAdjust="spacingAndGlyphs">0.50</text>
<text x="396.30" y="369.40" textLength="5.28" lengthAdjust="spacingAndGlyphs">1.80</text>
<text x="405.50" y="369.40" textLength="6.60" lengthAdjust="spacingAndGlyphs">−0.38</text>
<text x="414.70" y="369.40" textLength="5.28" lengthAdjust="spacingAndGlyphs">0.40</text>
<text x="423.90" y="369.40" textLength="5.28" lengthAdjust="spacingAndGlyphs">0.34</text>
</g>
<text x="431.30" y="159.10" font-size="6.9" fill="#222" stroke="#222" stroke-width="0.1" textLength="19.13" lengthAdjust="spacingAndGlyphs">TEAD2</text>
<text x="431.30" y="168.30" font-size="6.9" fill="#222" stroke="#222" stroke-width="0.1" textLength="15.50" lengthAdjust="spacingAndGlyphs">PLAU</text>
<text x="431.30" y="177.50" font-size="6.9" fill="#222" stroke="#222" stroke-width="0.1" textLength="20.77" lengthAdjust="spacingAndGlyphs">WNT5B</text>
<text x="431.30" y="186.70" font-size="6.9" fill="#222" stroke="#222" stroke-width="0.1" textLength="17.48" lengthAdjust="spacingAndGlyphs">BIRC3</text>
<text x="431.30" y="195.90" font-size="6.9" fill="#222" stroke="#222" stroke-width="0.1" textLength="19.79" lengthAdjust="spacingAndGlyphs">L1CAM</text>
<text x="431.30" y="205.10" font-size="6.9" fill="#222" stroke="#222" stroke-width="0.1" textLength="22.76" lengthAdjust="spacingAndGlyphs">CASP10</text>
<text x="431.30" y="214.30" font-size="6.9" fill="#222" stroke="#222" stroke-width="0.1" textLength="17.15" lengthAdjust="spacingAndGlyphs">ITGB8</text>
<text x="431.30" y="223.50" font-size="6.9" fill="#222" stroke="#222" stroke-width="0.1" textLength="16.82" lengthAdjust="spacingAndGlyphs">SGSH</text>
<text x="431.30" y="232.70" font-size="6.9" fill="#222" stroke="#222" stroke-width="0.1" textLength="28.35" lengthAdjust="spacingAndGlyphs">ONECUT1</text>
<text x="431.30" y="241.90" font-size="6.9" fill="#222" stroke="#222" stroke-width="0.1" textLength="14.84" lengthAdjust="spacingAndGlyphs">FZD6</text>
<text x="431.30" y="251.10" font-size="6.9" fill="#222" stroke="#222" stroke-width="0.1" textLength="19.46" lengthAdjust="spacingAndGlyphs">LAMP3</text>
<text x="431.30" y="260.30" font-size="6.9" fill="#222" stroke="#222" stroke-width="0.1" textLength="14.73" lengthAdjust="spacingAndGlyphs">PAK1</text>
<text x="431.30" y="269.50" font-size="6.9" fill="#222" stroke="#222" stroke-width="0.1" textLength="23.09" lengthAdjust="spacingAndGlyphs">DUSP10</text>
<text x="431.30" y="278.70" font-size="6.9" fill="#222" stroke="#222" stroke-width="0.1" textLength="19.79" lengthAdjust="spacingAndGlyphs">DUSP6</text>
<text x="431.30" y="287.90" font-size="6.9" fill="#222" stroke="#222" stroke-width="0.1" textLength="24.07" lengthAdjust="spacingAndGlyphs">TNFAIP3</text>
<text x="431.30" y="297.10" font-size="6.9" fill="#222" stroke="#222" stroke-width="0.1" textLength="21.10" lengthAdjust="spacingAndGlyphs">NFKBIZ</text>
<text x="431.30" y="306.30" font-size="6.9" fill="#222" stroke="#222" stroke-width="0.1" textLength="24.07" lengthAdjust="spacingAndGlyphs">WNT10A</text>
<text x="431.30" y="315.50" font-size="6.9" fill="#222" stroke="#222" stroke-width="0.1" textLength="25.39" lengthAdjust="spacingAndGlyphs">NECTIN1</text>
<text x="431.30" y="324.70" font-size="6.9" fill="#222" stroke="#222" stroke-width="0.1" textLength="15.50" lengthAdjust="spacingAndGlyphs">KSR2</text>
<text x="431.30" y="333.90" font-size="6.9" fill="#222" stroke="#222" stroke-width="0.1" textLength="22.43" lengthAdjust="spacingAndGlyphs">CX3CL1</text>
<text x="431.30" y="343.10" font-size="6.9" fill="#222" stroke="#222" stroke-width="0.1" textLength="19.68" lengthAdjust="spacingAndGlyphs">SORT1</text>
<text x="431.30" y="352.30" font-size="6.9" fill="#222" stroke="#222" stroke-width="0.1" textLength="12.53" lengthAdjust="spacingAndGlyphs">SRC</text>
<text x="431.30" y="361.50" font-size="6.9" fill="#222" stroke="#222" stroke-width="0.1" textLength="15.17" lengthAdjust="spacingAndGlyphs">CCL5</text>
<text x="431.30" y="370.70" font-size="6.9" fill="#222" stroke="#222" stroke-width="0.1" textLength="19.79" lengthAdjust="spacingAndGlyphs">NLGN3</text>
<path d="M331.50,152.20V138.50H341.50V152.20 M322.50,152.20V135.50H336.50V138.40 M350.50,152.20V140.50H359.50V152.20 M354.50,140.50V138.50H368.50V152.20 M377.50,152.20V140.50H387.50V152.20 M382.50,140.70V139.50H396.50V152.20 M414.50,152.20V143.50H423.50V152.20 M405.50,152.20V141.50H419.50V143.20 M389.50,139.60V138.50H412.50V141.40 M361.50,138.60V136.50H400.50V138.20 M329.50,135.80V133.50H381.50V136.00" fill="none" stroke="#3a3a3a" stroke-width="1"/>
<path d="M318.10,165.50H308.50V175.50H318.10 M308.80,170.50H307.50V184.50H318.10 M318.10,156.50H306.50V177.50H307.50 M318.10,193.50H307.50V202.50H318.10 M306.40,167.50H305.50V198.50H307.50 M318.10,211.50H306.50V221.50H318.10 M318.10,230.50H305.50V239.50H318.10 M306.60,216.50H304.50V235.50H305.20 M304.20,225.50H303.50V248.50H318.10 M305.20,182.50H301.50V237.50H303.00 M318.10,267.50H308.50V276.50H318.10 M318.10,285.50H308.50V294.50H318.10 M308.40,272.50H307.50V290.50H308.40 M318.10,258.50H306.50V281.50H307.20 M318.10,304.50H306.50V313.50H318.10 M306.00,269.50H304.50V309.50H306.10 M318.10,322.50H302.50V331.50H318.10 M318.10,350.50H303.50V359.50H318.10 M303.80,355.50H302.50V368.50H318.10 M304.30,289.50H301.50V327.50H302.20 M301.80,308.50H300.50V340.50H318.10 M301.80,209.50H300.50V324.50H300.70 M300.00,267.50H299.50V361.50H302.20" fill="none" stroke="#3a3a3a" stroke-width="1"/>
<defs><linearGradient id="hl" x1="0" y1="0" x2="0" y2="1"><stop offset="0" stop-color="#aa1628"/><stop offset="0.5" stop-color="#ffffff"/><stop offset="1" stop-color="#1e60aa"/></linearGradient></defs>
<rect x="467.00" y="235.80" width="5.20" height="36.20" fill="url(#hl)" />
<text x="474.80" y="240.20" font-size="6.4" fill="#222" stroke="#222" stroke-width="0.1" textLength="3.34" lengthAdjust="spacingAndGlyphs">2</text>
<text x="474.80" y="248.60" font-size="6.4" fill="#222" stroke="#222" stroke-width="0.1" textLength="3.34" lengthAdjust="spacingAndGlyphs">1</text>
<text x="474.80" y="257.00" font-size="6.4" fill="#222" stroke="#222" stroke-width="0.1" textLength="3.34" lengthAdjust="spacingAndGlyphs">0</text>
<text x="474.60" y="265.40" font-size="6.4" fill="#222" stroke="#222" stroke-width="0.1" textLength="6.84" lengthAdjust="spacingAndGlyphs">−1</text>
<g font-size="3.4" font-weight="bold" fill="#222" text-anchor="middle">
<text x="322.70" y="376.0">1</text>
<text x="331.90" y="376.0">2</text>
<text x="341.10" y="376.0">3</text>
<text x="350.30" y="376.0">1</text>
<text x="359.50" y="376.0">2</text>
<text x="368.70" y="376.0">3</text>
<text x="377.90" y="376.0">1</text>
<text x="387.10" y="376.0">2</text>
<text x="396.30" y="376.0">3</text>
<text x="405.50" y="376.0">1</text>
<text x="414.70" y="376.0">2</text>
<text x="423.90" y="376.0">3</text>
</g>
<line x1="318.70" y1="379.30" x2="344.70" y2="379.30" stroke="#444" stroke-width="1.0"/>
<line x1="347.00" y1="379.30" x2="372.60" y2="379.30" stroke="#444" stroke-width="1.0"/>
<line x1="374.00" y1="379.30" x2="399.90" y2="379.30" stroke="#444" stroke-width="1.0"/>
<line x1="402.30" y1="379.30" x2="427.90" y2="379.30" stroke="#444" stroke-width="1.0"/>
<text x="331.70" y="394.90" font-size="5.9" fill="#333" stroke="#333" stroke-width="0.1" text-anchor="middle" textLength="16.55" lengthAdjust="spacingAndGlyphs">Control</text>
<text x="359.60" y="405.60" font-size="5.8" fill="#333" stroke="#333" stroke-width="0.1" text-anchor="middle" textLength="22.89" lengthAdjust="spacingAndGlyphs">RTM-TDN</text>
<text x="389.50" y="405.60" font-size="5.8" fill="#333" stroke="#333" stroke-width="0.1" text-anchor="middle" textLength="24.72" lengthAdjust="spacingAndGlyphs">RTM+DOX</text>
<text x="415.80" y="405.60" font-size="5.8" fill="#333" stroke="#333" stroke-width="0.1" text-anchor="middle" textLength="10.28" lengthAdjust="spacingAndGlyphs">RTD</text>
<path d="M351.0,383.0 L355.5,387.5 L360.0,383.0 M355.5,387.5 V393.5" stroke="#dbe8d6" stroke-width="1.3" fill="none" stroke-linecap="round"/>
<path d="M383.0,384.5 L387.5,389.0 L392.0,384.5 M387.5,389.0 V395.0" stroke="#f2e6cc" stroke-width="1.3" fill="none" stroke-linecap="round"/>
<path d="M405.5,383.0 L410.0,387.5 L414.5,383.0 M410.0,387.5 V393.5" stroke="#ecf0d2" stroke-width="1.3" fill="none" stroke-linecap="round"/>
<path d="M355.8,395.4 Q358.2,391.59999999999997 362.59999999999997,394.8" stroke="#1a1a1a" stroke-width="1.2" fill="none" stroke-linecap="round"/>
<path d="M409.20000000000005,394.8 Q411.6,391.0 416.0,394.20000000000005" stroke="#1a1a1a" stroke-width="1.2" fill="none" stroke-linecap="round"/>
<path d="M363.1,393.5 L370.6,389.0 L372.1,397.0 Z M363.1,393.5 L372.1,397.0 M366.6,391.5 L371.6,392.5" stroke="#b8b8b8" stroke-width="0.6" fill="none"/>
<path d="M416.1,392.5 L423.6,388.0 L425.1,396.0 Z M416.1,392.5 L425.1,396.0 M419.6,390.5 L424.6,391.5" stroke="#e0a0aa" stroke-width="0.6" fill="none"/>
<circle cx="389.50" cy="391.50" r="0.70" fill="#2a6a3a" />
<circle cx="394.20" cy="391.80" r="1.50" fill="#d01020" />
<text x="424.30" y="425.60" font-size="8.8" fill="#222" stroke="#222" stroke-width="0.1" text-anchor="middle" textLength="101.70" lengthAdjust="spacingAndGlyphs">Top 20 of KEGG Enrichment</text>
<text x="371.80" y="437.70" font-size="6.2" fill="#222" stroke="#222" stroke-width="0.1" text-anchor="end" textLength="137.74" lengthAdjust="spacingAndGlyphs">Phenylalanine, tyrosine and tryptophan biosynthesis</text>
<line x1="375.20" y1="435.60" x2="378.50" y2="435.60" stroke="#222" stroke-width="0.9"/>
<circle cx="435.34" cy="435.60" r="1.70" fill="#e0102c" />
<text x="371.80" y="445.66" font-size="6.2" fill="#222" stroke="#222" stroke-width="0.1" text-anchor="end" textLength="39.50" lengthAdjust="spacingAndGlyphs">Axon guidance</text>
<line x1="375.20" y1="443.56" x2="378.50" y2="443.56" stroke="#222" stroke-width="0.9"/>
<circle cx="392.42" cy="443.56" r="2.90" fill="#e8061e" />
<text x="371.80" y="453.61" font-size="6.2" fill="#222" stroke="#222" stroke-width="0.1" text-anchor="end" textLength="60.73" lengthAdjust="spacingAndGlyphs">TNF signaling pathway</text>
<line x1="375.20" y1="451.51" x2="378.50" y2="451.51" stroke="#222" stroke-width="0.9"/>
<circle cx="392.86" cy="451.51" r="2.60" fill="#e60a22" />
<text x="371.80" y="461.57" font-size="6.2" fill="#222" stroke="#222" stroke-width="0.1" text-anchor="end" textLength="114.51" lengthAdjust="spacingAndGlyphs">Aldosterone-regulated sodium reabsorption</text>
<line x1="375.20" y1="459.47" x2="378.50" y2="459.47" stroke="#222" stroke-width="0.9"/>
<circle cx="396.86" cy="459.47" r="2.00" fill="#d41040" />
<text x="371.80" y="469.52" font-size="6.2" fill="#222" stroke="#222" stroke-width="0.1" text-anchor="end" textLength="69.70" lengthAdjust="spacingAndGlyphs">Phenylalanine metabolism</text>
<line x1="375.20" y1="467.42" x2="378.50" y2="467.42" stroke="#222" stroke-width="0.9"/>
<circle cx="405.00" cy="467.42" r="1.80" fill="#c41048" />
<text x="371.80" y="477.48" font-size="6.2" fill="#222" stroke="#222" stroke-width="0.1" text-anchor="end" textLength="63.72" lengthAdjust="spacingAndGlyphs">Proteoglycans in cancer</text>
<line x1="375.20" y1="475.38" x2="378.50" y2="475.38" stroke="#222" stroke-width="0.9"/>
<circle cx="390.50" cy="475.38" r="2.70" fill="#d81040" />
<text x="371.80" y="485.43" font-size="6.2" fill="#222" stroke="#222" stroke-width="0.1" text-anchor="end" textLength="64.72" lengthAdjust="spacingAndGlyphs">Hippo signaling pathway</text>
<line x1="375.20" y1="483.33" x2="378.50" y2="483.33" stroke="#222" stroke-width="0.9"/>
<circle cx="391.09" cy="483.33" r="2.60" fill="#d01045" />
<text x="371.80" y="493.39" font-size="6.2" fill="#222" stroke="#222" stroke-width="0.1" text-anchor="end" textLength="69.03" lengthAdjust="spacingAndGlyphs">Monobactam biosynthesis</text>
<line x1="375.20" y1="491.29" x2="378.50" y2="491.29" stroke="#222" stroke-width="0.9"/>
<circle cx="460.06" cy="491.29" r="1.00" fill="#5a2040" />
<text x="371.80" y="501.34" font-size="6.2" fill="#222" stroke="#222" stroke-width="0.1" text-anchor="end" textLength="54.75" lengthAdjust="spacingAndGlyphs">Basal cell carcinoma</text>
<line x1="375.20" y1="499.24" x2="378.50" y2="499.24" stroke="#222" stroke-width="0.9"/>
<circle cx="393.31" cy="499.24" r="2.20" fill="#c41060" />
<text x="371.80" y="509.30" font-size="6.2" fill="#222" stroke="#222" stroke-width="0.1" text-anchor="end" textLength="141.05" lengthAdjust="spacingAndGlyphs">Epithelial cell signaling in Helicobacter pylori infection</text>
<line x1="375.20" y1="507.20" x2="378.50" y2="507.20" stroke="#222" stroke-width="0.9"/>
<circle cx="392.72" cy="507.20" r="2.10" fill="#a81070" />
<text x="371.80" y="517.25" font-size="6.2" fill="#222" stroke="#222" stroke-width="0.1" text-anchor="end" textLength="112.51" lengthAdjust="spacingAndGlyphs">Hippo signaling pathway - multiple species</text>
<line x1="375.20" y1="515.15" x2="378.50" y2="515.15" stroke="#222" stroke-width="0.9"/>
<circle cx="396.71" cy="515.15" r="1.70" fill="#941085" />
<text x="371.80" y="525.21" font-size="6.2" fill="#222" stroke="#222" stroke-width="0.1" text-anchor="end" textLength="79.32" lengthAdjust="spacingAndGlyphs">Chemokine signaling pathway</text>
<line x1="375.20" y1="523.11" x2="378.50" y2="523.11" stroke="#222" stroke-width="0.9"/>
<circle cx="390.35" cy="523.11" r="2.60" fill="#9410bc" />
<text x="371.80" y="533.16" font-size="6.2" fill="#222" stroke="#222" stroke-width="0.1" text-anchor="end" textLength="101.99" lengthAdjust="spacingAndGlyphs">Transcriptional misregulation in cancer</text>
<line x1="375.20" y1="531.06" x2="378.50" y2="531.06" stroke="#222" stroke-width="0.9"/>
<circle cx="389.90" cy="531.06" r="2.80" fill="#8c10c0" />
<text x="371.80" y="541.12" font-size="6.2" fill="#222" stroke="#222" stroke-width="0.1" text-anchor="end" textLength="26.22" lengthAdjust="spacingAndGlyphs">Apoptosis</text>
<line x1="375.20" y1="539.01" x2="378.50" y2="539.01" stroke="#222" stroke-width="0.9"/>
<circle cx="390.94" cy="539.01" r="2.30" fill="#7c10c2" />
<text x="371.80" y="549.07" font-size="6.2" fill="#222" stroke="#222" stroke-width="0.1" text-anchor="end" textLength="26.99" lengthAdjust="spacingAndGlyphs">Lysosome</text>
<line x1="375.20" y1="546.97" x2="378.50" y2="546.97" stroke="#222" stroke-width="0.9"/>
<circle cx="390.79" cy="546.97" r="2.30" fill="#7010c4" />
<text x="371.80" y="557.03" font-size="6.2" fill="#222" stroke="#222" stroke-width="0.1" text-anchor="end" textLength="92.26" lengthAdjust="spacingAndGlyphs">Bacterial invasion of epithelial cells</text>
<line x1="375.20" y1="554.93" x2="378.50" y2="554.93" stroke="#222" stroke-width="0.9"/>
<circle cx="391.83" cy="554.93" r="2.20" fill="#6210c8" />
<text x="371.80" y="564.98" font-size="6.2" fill="#222" stroke="#222" stroke-width="0.1" text-anchor="end" textLength="148.02" lengthAdjust="spacingAndGlyphs">Signaling pathways regulating pluripotency of stem cells</text>
<line x1="375.20" y1="562.88" x2="378.50" y2="562.88" stroke="#222" stroke-width="0.9"/>
<circle cx="390.50" cy="562.88" r="2.20" fill="#5210d0" />
<text x="371.80" y="572.94" font-size="6.2" fill="#222" stroke="#222" stroke-width="0.1" text-anchor="end" textLength="77.32" lengthAdjust="spacingAndGlyphs">MAPK signaling pathway - fly</text>
<line x1="375.20" y1="570.84" x2="378.50" y2="570.84" stroke="#222" stroke-width="0.9"/>
<circle cx="391.53" cy="570.84" r="2.00" fill="#4210d8" />
<text x="371.80" y="580.89" font-size="6.2" fill="#222" stroke="#222" stroke-width="0.1" text-anchor="end" textLength="38.49" lengthAdjust="spacingAndGlyphs">Gastric cancer</text>
<line x1="375.20" y1="578.79" x2="378.50" y2="578.79" stroke="#222" stroke-width="0.9"/>
<circle cx="390.20" cy="578.79" r="2.20" fill="#2c10e0" />
<text x="371.80" y="588.85" font-size="6.2" fill="#222" stroke="#222" stroke-width="0.1" text-anchor="end" textLength="64.72" lengthAdjust="spacingAndGlyphs">Cell adhesion molecules</text>
<line x1="375.20" y1="586.75" x2="378.50" y2="586.75" stroke="#222" stroke-width="0.9"/>
<circle cx="390.50" cy="586.75" r="2.30" fill="#2210e8" />
<rect x="378.5" y="430.5" width="93.0" height="160.5" fill="none" stroke="#1a1a1a" stroke-width="1.0"/>
<line x1="386.50" y1="591.00" x2="386.50" y2="594.00" stroke="#333" stroke-width="0.8"/>
<text x="386.50" y="602.70" font-size="6.4" fill="#333" stroke="#333" stroke-width="0.1" text-anchor="middle" textLength="7.92" lengthAdjust="spacingAndGlyphs">0.0</text>
<line x1="416.10" y1="591.00" x2="416.10" y2="594.00" stroke="#333" stroke-width="0.8"/>
<text x="416.10" y="602.70" font-size="6.4" fill="#333" stroke="#333" stroke-width="0.1" text-anchor="middle" textLength="7.92" lengthAdjust="spacingAndGlyphs">0.2</text>
<line x1="445.70" y1="591.00" x2="445.70" y2="594.00" stroke="#333" stroke-width="0.8"/>
<text x="445.70" y="602.70" font-size="6.4" fill="#333" stroke="#333" stroke-width="0.1" text-anchor="middle" textLength="7.92" lengthAdjust="spacingAndGlyphs">0.4</text>
<text x="424.40" y="614.20" font-size="7.8" fill="#222" stroke="#222" stroke-width="0.1" text-anchor="middle" font-weight="bold" textLength="25.00" lengthAdjust="spacingAndGlyphs">Richfactor</text>
<text x="0" y="0" font-size="7.3" font-weight="bold" fill="#222" text-anchor="middle" textLength="21.2" lengthAdjust="spacingAndGlyphs" transform="translate(218.3,510.8) rotate(-90)">Pathway</text>
<text x="477.60" y="464.20" font-size="6.8" fill="#333" stroke="#333" stroke-width="0.1" textLength="35.70" lengthAdjust="spacingAndGlyphs">GeneNumber</text>
<circle cx="479.90" cy="470.80" r="0.85" fill="#111" />
<text x="485.80" y="472.90" font-size="6.4" fill="#333" stroke="#333" stroke-width="0.1" textLength="3.34" lengthAdjust="spacingAndGlyphs">1</text>
<circle cx="479.90" cy="477.90" r="1.40" fill="#111" />
<text x="485.80" y="480.00" font-size="6.4" fill="#333" stroke="#333" stroke-width="0.1" textLength="3.34" lengthAdjust="spacingAndGlyphs">2</text>
<circle cx="479.90" cy="485.40" r="1.85" fill="#111" />
<text x="485.80" y="487.50" font-size="6.4" fill="#333" stroke="#333" stroke-width="0.1" textLength="3.34" lengthAdjust="spacingAndGlyphs">3</text>
<circle cx="479.90" cy="492.70" r="2.10" fill="#111" />
<text x="485.80" y="494.80" font-size="6.4" fill="#333" stroke="#333" stroke-width="0.1" textLength="3.34" lengthAdjust="spacingAndGlyphs">4</text>
<circle cx="479.90" cy="500.20" r="2.35" fill="#111" />
<text x="485.80" y="502.30" font-size="6.4" fill="#333" stroke="#333" stroke-width="0.1" textLength="3.34" lengthAdjust="spacingAndGlyphs">5</text>
<circle cx="479.90" cy="507.90" r="2.60" fill="#111" />
<text x="485.80" y="510.00" font-size="6.4" fill="#333" stroke="#333" stroke-width="0.1" textLength="3.34" lengthAdjust="spacingAndGlyphs">6</text>
<circle cx="479.90" cy="515.20" r="2.85" fill="#111" />
<text x="485.80" y="517.30" font-size="6.4" fill="#333" stroke="#333" stroke-width="0.1" textLength="3.34" lengthAdjust="spacingAndGlyphs">7</text>
<text x="477.6" y="530.1" font-size="6.6" fill="#333" stroke="#333" stroke-width="0.1" textLength="18" lengthAdjust="spacingAndGlyphs"><tspan font-style="italic">P</tspan>value</text>
<defs><linearGradient id="pl" x1="0" y1="0" x2="0" y2="1"><stop offset="0" stop-color="#2a10c0"/><stop offset="0.06" stop-color="#3a10d0"/><stop offset="0.3" stop-color="#8010d4"/><stop offset="0.55" stop-color="#b810b0"/><stop offset="0.8" stop-color="#e0106a"/><stop offset="1" stop-color="#f21030"/></linearGradient></defs>
<rect x="477.20" y="534.50" width="6.20" height="28.20" fill="url(#pl)" />
<text x="486.00" y="538.70" font-size="6.4" fill="#333" stroke="#333" stroke-width="0.1" textLength="8.34" lengthAdjust="spacingAndGlyphs">.04</text>
<text x="486.00" y="545.40" font-size="6.4" fill="#333" stroke="#333" stroke-width="0.1" textLength="8.34" lengthAdjust="spacingAndGlyphs">.03</text>
<text x="486.00" y="552.20" font-size="6.4" fill="#333" stroke="#333" stroke-width="0.1" textLength="8.34" lengthAdjust="spacingAndGlyphs">.02</text>
<text x="486.00" y="559.00" font-size="6.4" fill="#333" stroke="#333" stroke-width="0.1" textLength="8.34" lengthAdjust="spacingAndGlyphs">.01</text>
<rect x="0.5" y="0.5" width="519" height="622" fill="none" stroke="#4d4d4d" stroke-width="1.1"/>
</svg>
</body></html>
